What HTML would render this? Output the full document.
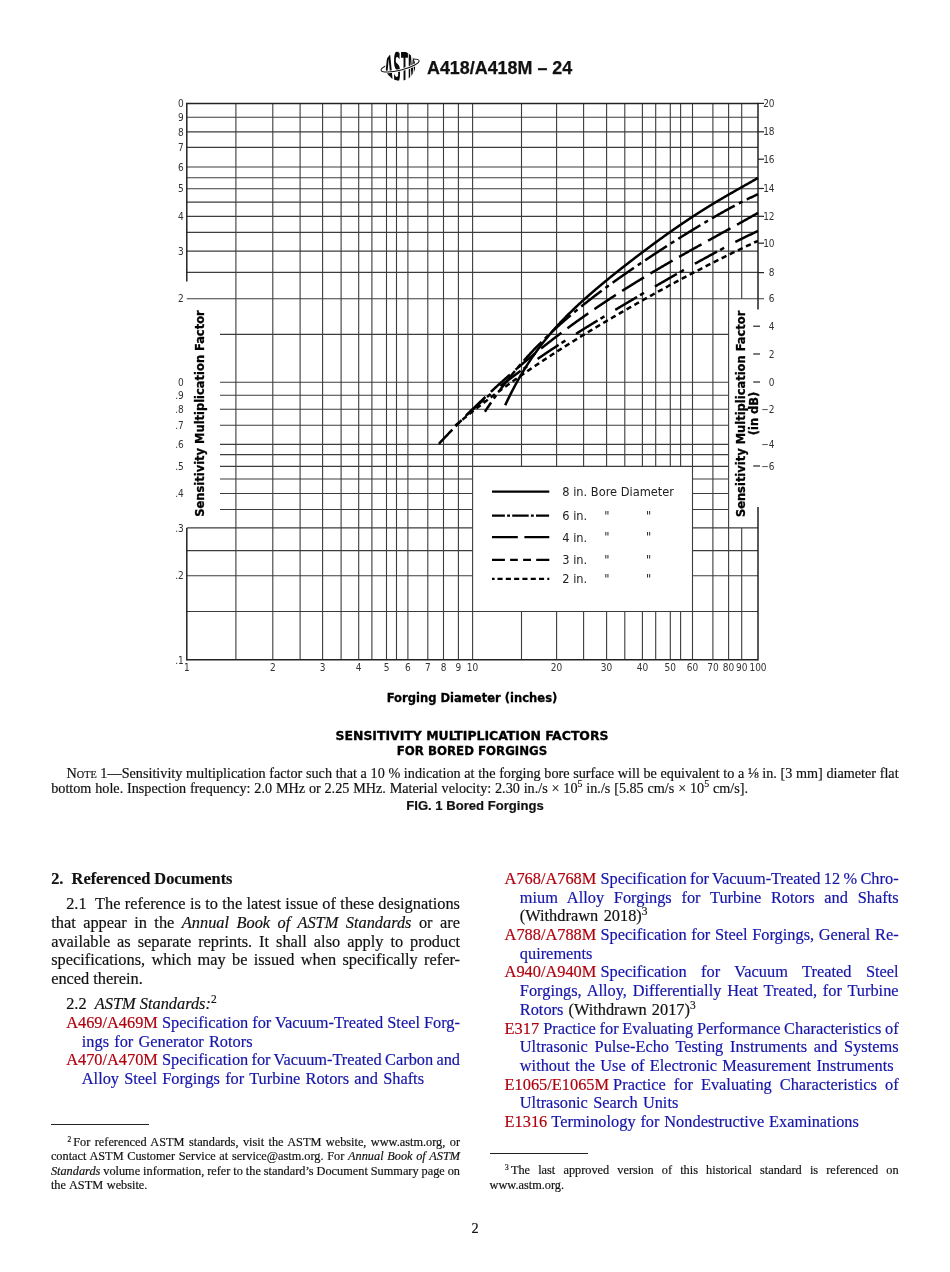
<!DOCTYPE html>
<html><head><meta charset="utf-8"><title>A418/A418M – 24</title>
<style>
html,body{margin:0;padding:0;background:#fff;}
body{width:950px;height:1272px;position:relative;overflow:hidden;font-family:"Liberation Serif","Times New Roman",serif;color:#111;}
.ln{position:absolute;white-space:nowrap;-webkit-text-stroke:0.18px currentColor;}
.ns{word-spacing:0;}
.r{color:#b0000e;}
.b{color:#1515aa;}
sup{font-size:0.7em;vertical-align:0;position:relative;top:-0.55em;line-height:0;}
sup.fn{font-size:0.6em;top:-0.6em;margin-right:2.2px;}
sub{font-size:0.68em;vertical-align:0;position:relative;top:0.1em;line-height:0;}
.sc small{font-size:0.72em;}
.hdr{position:absolute;left:427px;top:57.5px;font-family:"Liberation Sans",Arial,sans-serif;font-weight:bold;font-size:17.9px;line-height:20px;-webkit-text-stroke:0.25px #111;white-space:nowrap;color:#111;}
.cap{position:absolute;left:0;width:950px;text-align:center;font-family:"Liberation Sans",Arial,sans-serif;font-weight:bold;white-space:nowrap;color:#111;-webkit-text-stroke:0.2px #111;}
.rule{position:absolute;height:1px;background:#222;}
</style></head>
<body>
<svg width="50" height="44" viewBox="0 0 50 44" style="position:absolute;left:375px;top:44px">
  <defs><clipPath id="gc"><ellipse cx="25.2" cy="21.9" rx="15.0" ry="14.9"/></clipPath></defs>
  <g transform="rotate(-14.3 25.1 21.5)"><ellipse cx="25.1" cy="21.5" rx="19.6" ry="4.6" fill="none" stroke="#111" stroke-width="1.0"/></g>
  <g clip-path="url(#gc)" font-family="DejaVu Sans Condensed,DejaVu Sans,sans-serif" font-weight="bold" font-size="40" fill="#0a0a0a">
    <rect x="8" y="4" width="35" height="36" fill="#fff"/>
    <text x="9.6" y="37.5" textLength="8.4" lengthAdjust="spacingAndGlyphs">A</text>
    <text x="18.2" y="37.5" textLength="7.6" lengthAdjust="spacingAndGlyphs">S</text>
    <text x="25.9" y="37.5" textLength="7.0" lengthAdjust="spacingAndGlyphs">T</text>
    <text x="33.0" y="37.5" textLength="8.0" lengthAdjust="spacingAndGlyphs">M</text>
  </g>
  <g transform="rotate(-14.3 25.1 21.5)"><path d="M5.5,21.5 A19.6,4.6 0 0 0 44.7,21.5" fill="none" stroke="#fff" stroke-width="2.6"/><path d="M5.5,21.5 A19.6,4.6 0 0 0 44.7,21.5" fill="none" stroke="#111" stroke-width="1.0"/></g>
</svg>
<div class="hdr">A418/A418M – 24</div>
<svg width="950" height="760" viewBox="0 0 950 760" style="position:absolute;left:0;top:0">
<line x1="186.8" y1="117.3" x2="758.0" y2="117.3" stroke="#3c3c3c" stroke-width="1.1"/>
<line x1="186.8" y1="131.9" x2="758.0" y2="131.9" stroke="#3c3c3c" stroke-width="1.1"/>
<line x1="186.8" y1="147.4" x2="758.0" y2="147.4" stroke="#3c3c3c" stroke-width="1.1"/>
<line x1="186.8" y1="167.0" x2="758.0" y2="167.0" stroke="#3c3c3c" stroke-width="1.1"/>
<line x1="186.8" y1="177.7" x2="758.0" y2="177.7" stroke="#3c3c3c" stroke-width="1.1"/>
<line x1="186.8" y1="188.8" x2="758.0" y2="188.8" stroke="#3c3c3c" stroke-width="1.1"/>
<line x1="186.8" y1="202.1" x2="758.0" y2="202.1" stroke="#3c3c3c" stroke-width="1.1"/>
<line x1="186.8" y1="216.4" x2="758.0" y2="216.4" stroke="#3c3c3c" stroke-width="1.1"/>
<line x1="186.8" y1="232.4" x2="758.0" y2="232.4" stroke="#3c3c3c" stroke-width="1.1"/>
<line x1="186.8" y1="251.1" x2="758.0" y2="251.1" stroke="#3c3c3c" stroke-width="1.1"/>
<line x1="186.8" y1="272.4" x2="758.0" y2="272.4" stroke="#3c3c3c" stroke-width="1.1"/>
<line x1="186.8" y1="298.8" x2="764.0" y2="298.8" stroke="#3c3c3c" stroke-width="1.1"/>
<line x1="220.0" y1="334.4" x2="728.6" y2="334.4" stroke="#3c3c3c" stroke-width="1.1"/>
<line x1="220.0" y1="382.2" x2="728.6" y2="382.2" stroke="#3c3c3c" stroke-width="1.1"/>
<line x1="220.0" y1="395.3" x2="728.6" y2="395.3" stroke="#3c3c3c" stroke-width="1.1"/>
<line x1="220.0" y1="409.3" x2="728.6" y2="409.3" stroke="#3c3c3c" stroke-width="1.1"/>
<line x1="220.0" y1="425.3" x2="728.6" y2="425.3" stroke="#3c3c3c" stroke-width="1.1"/>
<line x1="220.0" y1="444.4" x2="728.6" y2="444.4" stroke="#3c3c3c" stroke-width="1.1"/>
<line x1="220.0" y1="454.6" x2="728.6" y2="454.6" stroke="#3c3c3c" stroke-width="1.1"/>
<line x1="220.0" y1="466.4" x2="728.6" y2="466.4" stroke="#3c3c3c" stroke-width="1.1"/>
<line x1="220.0" y1="479.0" x2="472.6" y2="479.0" stroke="#3c3c3c" stroke-width="1.1"/>
<line x1="692.5" y1="479.0" x2="728.6" y2="479.0" stroke="#3c3c3c" stroke-width="1.1"/>
<line x1="220.0" y1="493.5" x2="472.6" y2="493.5" stroke="#3c3c3c" stroke-width="1.1"/>
<line x1="692.5" y1="493.5" x2="728.6" y2="493.5" stroke="#3c3c3c" stroke-width="1.1"/>
<line x1="220.0" y1="509.5" x2="472.6" y2="509.5" stroke="#3c3c3c" stroke-width="1.1"/>
<line x1="692.5" y1="509.5" x2="728.6" y2="509.5" stroke="#3c3c3c" stroke-width="1.1"/>
<line x1="186.8" y1="527.9" x2="472.6" y2="527.9" stroke="#3c3c3c" stroke-width="1.1"/>
<line x1="692.5" y1="527.9" x2="758.0" y2="527.9" stroke="#3c3c3c" stroke-width="1.1"/>
<line x1="186.8" y1="550.6" x2="472.6" y2="550.6" stroke="#3c3c3c" stroke-width="1.1"/>
<line x1="692.5" y1="550.6" x2="758.0" y2="550.6" stroke="#3c3c3c" stroke-width="1.1"/>
<line x1="186.8" y1="575.7" x2="472.6" y2="575.7" stroke="#3c3c3c" stroke-width="1.1"/>
<line x1="692.5" y1="575.7" x2="758.0" y2="575.7" stroke="#3c3c3c" stroke-width="1.1"/>
<line x1="186.8" y1="611.5" x2="758.0" y2="611.5" stroke="#3c3c3c" stroke-width="1.1"/>
<line x1="235.9" y1="103.4" x2="235.9" y2="659.8" stroke="#3c3c3c" stroke-width="1.1"/>
<line x1="272.8" y1="103.4" x2="272.8" y2="659.8" stroke="#3c3c3c" stroke-width="1.1"/>
<line x1="300.1" y1="103.4" x2="300.1" y2="659.8" stroke="#3c3c3c" stroke-width="1.1"/>
<line x1="322.6" y1="103.4" x2="322.6" y2="659.8" stroke="#3c3c3c" stroke-width="1.1"/>
<line x1="341.1" y1="103.4" x2="341.1" y2="659.8" stroke="#3c3c3c" stroke-width="1.1"/>
<line x1="358.7" y1="103.4" x2="358.7" y2="659.8" stroke="#3c3c3c" stroke-width="1.1"/>
<line x1="371.9" y1="103.4" x2="371.9" y2="659.8" stroke="#3c3c3c" stroke-width="1.1"/>
<line x1="386.5" y1="103.4" x2="386.5" y2="659.8" stroke="#3c3c3c" stroke-width="1.1"/>
<line x1="396.5" y1="103.4" x2="396.5" y2="659.8" stroke="#3c3c3c" stroke-width="1.1"/>
<line x1="407.9" y1="103.4" x2="407.9" y2="659.8" stroke="#3c3c3c" stroke-width="1.1"/>
<line x1="427.8" y1="103.4" x2="427.8" y2="659.8" stroke="#3c3c3c" stroke-width="1.1"/>
<line x1="443.5" y1="103.4" x2="443.5" y2="659.8" stroke="#3c3c3c" stroke-width="1.1"/>
<line x1="458.4" y1="103.4" x2="458.4" y2="659.8" stroke="#3c3c3c" stroke-width="1.1"/>
<line x1="472.6" y1="103.4" x2="472.6" y2="659.8" stroke="#3c3c3c" stroke-width="1.1"/>
<line x1="521.5" y1="103.4" x2="521.5" y2="466.4" stroke="#3c3c3c" stroke-width="1.1"/>
<line x1="521.5" y1="611.5" x2="521.5" y2="659.8" stroke="#3c3c3c" stroke-width="1.1"/>
<line x1="556.6" y1="103.4" x2="556.6" y2="466.4" stroke="#3c3c3c" stroke-width="1.1"/>
<line x1="556.6" y1="611.5" x2="556.6" y2="659.8" stroke="#3c3c3c" stroke-width="1.1"/>
<line x1="583.6" y1="103.4" x2="583.6" y2="466.4" stroke="#3c3c3c" stroke-width="1.1"/>
<line x1="583.6" y1="611.5" x2="583.6" y2="659.8" stroke="#3c3c3c" stroke-width="1.1"/>
<line x1="606.6" y1="103.4" x2="606.6" y2="466.4" stroke="#3c3c3c" stroke-width="1.1"/>
<line x1="606.6" y1="611.5" x2="606.6" y2="659.8" stroke="#3c3c3c" stroke-width="1.1"/>
<line x1="624.8" y1="103.4" x2="624.8" y2="466.4" stroke="#3c3c3c" stroke-width="1.1"/>
<line x1="624.8" y1="611.5" x2="624.8" y2="659.8" stroke="#3c3c3c" stroke-width="1.1"/>
<line x1="642.4" y1="103.4" x2="642.4" y2="466.4" stroke="#3c3c3c" stroke-width="1.1"/>
<line x1="642.4" y1="611.5" x2="642.4" y2="659.8" stroke="#3c3c3c" stroke-width="1.1"/>
<line x1="655.7" y1="103.4" x2="655.7" y2="466.4" stroke="#3c3c3c" stroke-width="1.1"/>
<line x1="655.7" y1="611.5" x2="655.7" y2="659.8" stroke="#3c3c3c" stroke-width="1.1"/>
<line x1="670.3" y1="103.4" x2="670.3" y2="466.4" stroke="#3c3c3c" stroke-width="1.1"/>
<line x1="670.3" y1="611.5" x2="670.3" y2="659.8" stroke="#3c3c3c" stroke-width="1.1"/>
<line x1="680.6" y1="103.4" x2="680.6" y2="466.4" stroke="#3c3c3c" stroke-width="1.1"/>
<line x1="680.6" y1="611.5" x2="680.6" y2="659.8" stroke="#3c3c3c" stroke-width="1.1"/>
<line x1="692.5" y1="103.4" x2="692.5" y2="659.8" stroke="#3c3c3c" stroke-width="1.1"/>
<line x1="712.9" y1="103.4" x2="712.9" y2="659.8" stroke="#3c3c3c" stroke-width="1.1"/>
<line x1="728.6" y1="103.4" x2="728.6" y2="659.8" stroke="#3c3c3c" stroke-width="1.1"/>
<line x1="741.7" y1="103.4" x2="741.7" y2="298.8" stroke="#3c3c3c" stroke-width="1.1"/>
<line x1="741.7" y1="527.9" x2="741.7" y2="659.8" stroke="#3c3c3c" stroke-width="1.1"/>
<line x1="186.8" y1="102.8" x2="186.8" y2="281.4" stroke="#222" stroke-width="1.5"/>
<line x1="186.8" y1="527.9" x2="186.8" y2="660.4" stroke="#222" stroke-width="1.5"/>
<line x1="758.0" y1="102.8" x2="758.0" y2="309.5" stroke="#222" stroke-width="1.5"/>
<line x1="758.0" y1="507.0" x2="758.0" y2="660.4" stroke="#222" stroke-width="1.5"/>
<line x1="186.8" y1="103.4" x2="758.0" y2="103.4" stroke="#222" stroke-width="1.5"/>
<line x1="186.8" y1="659.8" x2="758.0" y2="659.8" stroke="#222" stroke-width="1.6"/>
<line x1="758.0" y1="103.4" x2="764.0" y2="103.4" stroke="#222" stroke-width="1.2"/>
<line x1="758.0" y1="131.8" x2="764.0" y2="131.8" stroke="#222" stroke-width="1.2"/>
<line x1="758.0" y1="159.2" x2="764.0" y2="159.2" stroke="#222" stroke-width="1.2"/>
<line x1="758.0" y1="188.5" x2="764.0" y2="188.5" stroke="#222" stroke-width="1.2"/>
<line x1="758.0" y1="216.3" x2="764.0" y2="216.3" stroke="#222" stroke-width="1.2"/>
<line x1="758.0" y1="243.2" x2="764.0" y2="243.2" stroke="#222" stroke-width="1.2"/>
<line x1="758.0" y1="272.6" x2="764.0" y2="272.6" stroke="#222" stroke-width="1.2"/>
<line x1="753.2" y1="326.2" x2="760.0" y2="326.2" stroke="#222" stroke-width="1.2"/>
<line x1="753.2" y1="354.0" x2="760.0" y2="354.0" stroke="#222" stroke-width="1.2"/>
<line x1="753.2" y1="382.0" x2="760.0" y2="382.0" stroke="#222" stroke-width="1.2"/>
<line x1="753.2" y1="466.0" x2="760.0" y2="466.0" stroke="#222" stroke-width="1.2"/>
<text x="183.8" y="107.0" text-anchor="end" font-size="10" font-weight="normal" fill="#333" style="font-family:&quot;DejaVu Sans Condensed&quot;,&quot;DejaVu Sans&quot;,sans-serif" >0</text>
<text x="183.8" y="120.9" text-anchor="end" font-size="10" font-weight="normal" fill="#333" style="font-family:&quot;DejaVu Sans Condensed&quot;,&quot;DejaVu Sans&quot;,sans-serif" >9</text>
<text x="183.8" y="135.5" text-anchor="end" font-size="10" font-weight="normal" fill="#333" style="font-family:&quot;DejaVu Sans Condensed&quot;,&quot;DejaVu Sans&quot;,sans-serif" >8</text>
<text x="183.8" y="151.0" text-anchor="end" font-size="10" font-weight="normal" fill="#333" style="font-family:&quot;DejaVu Sans Condensed&quot;,&quot;DejaVu Sans&quot;,sans-serif" >7</text>
<text x="183.8" y="170.6" text-anchor="end" font-size="10" font-weight="normal" fill="#333" style="font-family:&quot;DejaVu Sans Condensed&quot;,&quot;DejaVu Sans&quot;,sans-serif" >6</text>
<text x="183.8" y="192.4" text-anchor="end" font-size="10" font-weight="normal" fill="#333" style="font-family:&quot;DejaVu Sans Condensed&quot;,&quot;DejaVu Sans&quot;,sans-serif" >5</text>
<text x="183.8" y="220.0" text-anchor="end" font-size="10" font-weight="normal" fill="#333" style="font-family:&quot;DejaVu Sans Condensed&quot;,&quot;DejaVu Sans&quot;,sans-serif" >4</text>
<text x="183.8" y="254.7" text-anchor="end" font-size="10" font-weight="normal" fill="#333" style="font-family:&quot;DejaVu Sans Condensed&quot;,&quot;DejaVu Sans&quot;,sans-serif" >3</text>
<text x="183.8" y="302.4" text-anchor="end" font-size="10" font-weight="normal" fill="#333" style="font-family:&quot;DejaVu Sans Condensed&quot;,&quot;DejaVu Sans&quot;,sans-serif" >2</text>
<text x="183.8" y="385.8" text-anchor="end" font-size="10" font-weight="normal" fill="#333" style="font-family:&quot;DejaVu Sans Condensed&quot;,&quot;DejaVu Sans&quot;,sans-serif" >0</text>
<text x="183.8" y="398.9" text-anchor="end" font-size="10" font-weight="normal" fill="#333" style="font-family:&quot;DejaVu Sans Condensed&quot;,&quot;DejaVu Sans&quot;,sans-serif" >.9</text>
<text x="183.8" y="412.9" text-anchor="end" font-size="10" font-weight="normal" fill="#333" style="font-family:&quot;DejaVu Sans Condensed&quot;,&quot;DejaVu Sans&quot;,sans-serif" >.8</text>
<text x="183.8" y="428.9" text-anchor="end" font-size="10" font-weight="normal" fill="#333" style="font-family:&quot;DejaVu Sans Condensed&quot;,&quot;DejaVu Sans&quot;,sans-serif" >.7</text>
<text x="183.8" y="448.0" text-anchor="end" font-size="10" font-weight="normal" fill="#333" style="font-family:&quot;DejaVu Sans Condensed&quot;,&quot;DejaVu Sans&quot;,sans-serif" >.6</text>
<text x="183.8" y="470.0" text-anchor="end" font-size="10" font-weight="normal" fill="#333" style="font-family:&quot;DejaVu Sans Condensed&quot;,&quot;DejaVu Sans&quot;,sans-serif" >.5</text>
<text x="183.8" y="497.1" text-anchor="end" font-size="10" font-weight="normal" fill="#333" style="font-family:&quot;DejaVu Sans Condensed&quot;,&quot;DejaVu Sans&quot;,sans-serif" >.4</text>
<text x="183.8" y="531.5" text-anchor="end" font-size="10" font-weight="normal" fill="#333" style="font-family:&quot;DejaVu Sans Condensed&quot;,&quot;DejaVu Sans&quot;,sans-serif" >.3</text>
<text x="183.8" y="579.3" text-anchor="end" font-size="10" font-weight="normal" fill="#333" style="font-family:&quot;DejaVu Sans Condensed&quot;,&quot;DejaVu Sans&quot;,sans-serif" >.2</text>
<text x="183.8" y="663.7" text-anchor="end" font-size="10" font-weight="normal" fill="#333" style="font-family:&quot;DejaVu Sans Condensed&quot;,&quot;DejaVu Sans&quot;,sans-serif" >.1</text>
<text x="186.8" y="671.4" text-anchor="middle" font-size="10" font-weight="normal" fill="#333" style="font-family:&quot;DejaVu Sans Condensed&quot;,&quot;DejaVu Sans&quot;,sans-serif" >1</text>
<text x="272.8" y="671.4" text-anchor="middle" font-size="10" font-weight="normal" fill="#333" style="font-family:&quot;DejaVu Sans Condensed&quot;,&quot;DejaVu Sans&quot;,sans-serif" >2</text>
<text x="322.6" y="671.4" text-anchor="middle" font-size="10" font-weight="normal" fill="#333" style="font-family:&quot;DejaVu Sans Condensed&quot;,&quot;DejaVu Sans&quot;,sans-serif" >3</text>
<text x="358.7" y="671.4" text-anchor="middle" font-size="10" font-weight="normal" fill="#333" style="font-family:&quot;DejaVu Sans Condensed&quot;,&quot;DejaVu Sans&quot;,sans-serif" >4</text>
<text x="386.5" y="671.4" text-anchor="middle" font-size="10" font-weight="normal" fill="#333" style="font-family:&quot;DejaVu Sans Condensed&quot;,&quot;DejaVu Sans&quot;,sans-serif" >5</text>
<text x="407.9" y="671.4" text-anchor="middle" font-size="10" font-weight="normal" fill="#333" style="font-family:&quot;DejaVu Sans Condensed&quot;,&quot;DejaVu Sans&quot;,sans-serif" >6</text>
<text x="427.8" y="671.4" text-anchor="middle" font-size="10" font-weight="normal" fill="#333" style="font-family:&quot;DejaVu Sans Condensed&quot;,&quot;DejaVu Sans&quot;,sans-serif" >7</text>
<text x="443.5" y="671.4" text-anchor="middle" font-size="10" font-weight="normal" fill="#333" style="font-family:&quot;DejaVu Sans Condensed&quot;,&quot;DejaVu Sans&quot;,sans-serif" >8</text>
<text x="458.4" y="671.4" text-anchor="middle" font-size="10" font-weight="normal" fill="#333" style="font-family:&quot;DejaVu Sans Condensed&quot;,&quot;DejaVu Sans&quot;,sans-serif" >9</text>
<text x="472.6" y="671.4" text-anchor="middle" font-size="10" font-weight="normal" fill="#333" style="font-family:&quot;DejaVu Sans Condensed&quot;,&quot;DejaVu Sans&quot;,sans-serif" >10</text>
<text x="556.6" y="671.4" text-anchor="middle" font-size="10" font-weight="normal" fill="#333" style="font-family:&quot;DejaVu Sans Condensed&quot;,&quot;DejaVu Sans&quot;,sans-serif" >20</text>
<text x="606.6" y="671.4" text-anchor="middle" font-size="10" font-weight="normal" fill="#333" style="font-family:&quot;DejaVu Sans Condensed&quot;,&quot;DejaVu Sans&quot;,sans-serif" >30</text>
<text x="642.4" y="671.4" text-anchor="middle" font-size="10" font-weight="normal" fill="#333" style="font-family:&quot;DejaVu Sans Condensed&quot;,&quot;DejaVu Sans&quot;,sans-serif" >40</text>
<text x="670.3" y="671.4" text-anchor="middle" font-size="10" font-weight="normal" fill="#333" style="font-family:&quot;DejaVu Sans Condensed&quot;,&quot;DejaVu Sans&quot;,sans-serif" >50</text>
<text x="692.5" y="671.4" text-anchor="middle" font-size="10" font-weight="normal" fill="#333" style="font-family:&quot;DejaVu Sans Condensed&quot;,&quot;DejaVu Sans&quot;,sans-serif" >60</text>
<text x="712.9" y="671.4" text-anchor="middle" font-size="10" font-weight="normal" fill="#333" style="font-family:&quot;DejaVu Sans Condensed&quot;,&quot;DejaVu Sans&quot;,sans-serif" >70</text>
<text x="728.6" y="671.4" text-anchor="middle" font-size="10" font-weight="normal" fill="#333" style="font-family:&quot;DejaVu Sans Condensed&quot;,&quot;DejaVu Sans&quot;,sans-serif" >80</text>
<text x="741.7" y="671.4" text-anchor="middle" font-size="10" font-weight="normal" fill="#333" style="font-family:&quot;DejaVu Sans Condensed&quot;,&quot;DejaVu Sans&quot;,sans-serif" >90</text>
<text x="758.0" y="671.4" text-anchor="middle" font-size="10" font-weight="normal" fill="#333" style="font-family:&quot;DejaVu Sans Condensed&quot;,&quot;DejaVu Sans&quot;,sans-serif" >100</text>
<text x="774.6" y="107.0" text-anchor="end" font-size="10" font-weight="normal" fill="#333" style="font-family:&quot;DejaVu Sans Condensed&quot;,&quot;DejaVu Sans&quot;,sans-serif" >20</text>
<text x="774.6" y="135.4" text-anchor="end" font-size="10" font-weight="normal" fill="#333" style="font-family:&quot;DejaVu Sans Condensed&quot;,&quot;DejaVu Sans&quot;,sans-serif" >18</text>
<text x="774.6" y="162.8" text-anchor="end" font-size="10" font-weight="normal" fill="#333" style="font-family:&quot;DejaVu Sans Condensed&quot;,&quot;DejaVu Sans&quot;,sans-serif" >16</text>
<text x="774.6" y="192.1" text-anchor="end" font-size="10" font-weight="normal" fill="#333" style="font-family:&quot;DejaVu Sans Condensed&quot;,&quot;DejaVu Sans&quot;,sans-serif" >14</text>
<text x="774.6" y="219.9" text-anchor="end" font-size="10" font-weight="normal" fill="#333" style="font-family:&quot;DejaVu Sans Condensed&quot;,&quot;DejaVu Sans&quot;,sans-serif" >12</text>
<text x="774.6" y="246.8" text-anchor="end" font-size="10" font-weight="normal" fill="#333" style="font-family:&quot;DejaVu Sans Condensed&quot;,&quot;DejaVu Sans&quot;,sans-serif" >10</text>
<text x="774.6" y="276.2" text-anchor="end" font-size="10" font-weight="normal" fill="#333" style="font-family:&quot;DejaVu Sans Condensed&quot;,&quot;DejaVu Sans&quot;,sans-serif" >8</text>
<text x="774.6" y="302.4" text-anchor="end" font-size="10" font-weight="normal" fill="#333" style="font-family:&quot;DejaVu Sans Condensed&quot;,&quot;DejaVu Sans&quot;,sans-serif" >6</text>
<text x="774.6" y="329.8" text-anchor="end" font-size="10" font-weight="normal" fill="#333" style="font-family:&quot;DejaVu Sans Condensed&quot;,&quot;DejaVu Sans&quot;,sans-serif" >4</text>
<text x="774.6" y="357.6" text-anchor="end" font-size="10" font-weight="normal" fill="#333" style="font-family:&quot;DejaVu Sans Condensed&quot;,&quot;DejaVu Sans&quot;,sans-serif" >2</text>
<text x="774.6" y="385.6" text-anchor="end" font-size="10" font-weight="normal" fill="#333" style="font-family:&quot;DejaVu Sans Condensed&quot;,&quot;DejaVu Sans&quot;,sans-serif" >0</text>
<text x="774.6" y="413.0" text-anchor="end" font-size="10" font-weight="normal" fill="#333" style="font-family:&quot;DejaVu Sans Condensed&quot;,&quot;DejaVu Sans&quot;,sans-serif" >−2</text>
<text x="774.6" y="448.3" text-anchor="end" font-size="10" font-weight="normal" fill="#333" style="font-family:&quot;DejaVu Sans Condensed&quot;,&quot;DejaVu Sans&quot;,sans-serif" >−4</text>
<text x="774.6" y="469.6" text-anchor="end" font-size="10" font-weight="normal" fill="#333" style="font-family:&quot;DejaVu Sans Condensed&quot;,&quot;DejaVu Sans&quot;,sans-serif" >−6</text>
<text x="472.0" y="701.5" text-anchor="middle" font-size="12.85" font-weight="bold" fill="#000" stroke="#000" stroke-width="0.3" style="font-family:&quot;DejaVu Sans Condensed&quot;,&quot;DejaVu Sans&quot;,sans-serif" >Forging Diameter (inches)</text>
<text x="472.0" y="739.6" text-anchor="middle" font-size="12.8" font-weight="bold" fill="#000" stroke="#000" stroke-width="0.3" style="font-family:&quot;DejaVu Sans Condensed&quot;,&quot;DejaVu Sans&quot;,sans-serif" textLength="273" lengthAdjust="spacingAndGlyphs">SENSITIVITY MULTIPLICATION FACTORS</text>
<text x="472.0" y="754.6" text-anchor="middle" font-size="12.8" font-weight="bold" fill="#000" stroke="#000" stroke-width="0.3" style="font-family:&quot;DejaVu Sans Condensed&quot;,&quot;DejaVu Sans&quot;,sans-serif" textLength="150.4" lengthAdjust="spacingAndGlyphs">FOR BORED FORGINGS</text>
<text transform="translate(203.6,413.5) rotate(-90)" text-anchor="middle" font-size="12.75" font-weight="bold" fill="#000" stroke="#000" stroke-width="0.3" style="font-family:&quot;DejaVu Sans Condensed&quot;,&quot;DejaVu Sans&quot;,sans-serif">Sensitivity Multiplication Factor</text>
<text transform="translate(744.6,413.9) rotate(-90)" text-anchor="middle" font-size="12.75" font-weight="bold" fill="#000" stroke="#000" stroke-width="0.3" style="font-family:&quot;DejaVu Sans Condensed&quot;,&quot;DejaVu Sans&quot;,sans-serif">Sensitivity Multiplication Factor</text>
<text transform="translate(757.6,413.5) rotate(-90)" text-anchor="middle" font-size="12.75" font-weight="bold" fill="#000" stroke="#000" stroke-width="0.3" style="font-family:&quot;DejaVu Sans Condensed&quot;,&quot;DejaVu Sans&quot;,sans-serif">(in dB)</text>
<line x1="492" y1="491.6" x2="549.3" y2="491.6" stroke="#000" stroke-width="2.3"/>
<line x1="492" y1="515.6" x2="549.3" y2="515.6" stroke="#000" stroke-width="2.3" stroke-dasharray="12.9 2.2 2.9 2.2 16.5 2.2 2.9 2.2 13.1"/>
<line x1="492" y1="537.1" x2="549.3" y2="537.1" stroke="#000" stroke-width="2.3" stroke-dasharray="25.8 6.6 24.9"/>
<line x1="492" y1="559.9" x2="549.3" y2="559.9" stroke="#000" stroke-width="2.3" stroke-dasharray="12.9 5.2 7.7 5.3 7.9 5.2 13.1"/>
<line x1="492" y1="578.8" x2="549.3" y2="578.8" stroke="#000" stroke-width="2.3" stroke-dasharray="2.6 2.9 5.1 3.2 5.1 3.2 5.1 3.2 5.1 3.2 5.1 3.2 5.1 3.2 2.6"/>
<text x="562.3" y="496.1" text-anchor="start" font-size="12.7" font-weight="normal" fill="#222" style="font-family:&quot;DejaVu Sans Condensed&quot;,&quot;DejaVu Sans&quot;,sans-serif" >8 in. Bore Diameter</text>
<text x="562.3" y="520.1" text-anchor="start" font-size="12.7" font-weight="normal" fill="#222" style="font-family:&quot;DejaVu Sans Condensed&quot;,&quot;DejaVu Sans&quot;,sans-serif" >6 in.</text>
<text x="606.9" y="519.9" text-anchor="middle" font-size="12.7" font-weight="normal" fill="#222" style="font-family:&quot;DejaVu Sans Condensed&quot;,&quot;DejaVu Sans&quot;,sans-serif" >&quot;</text>
<text x="648.6" y="519.9" text-anchor="middle" font-size="12.7" font-weight="normal" fill="#222" style="font-family:&quot;DejaVu Sans Condensed&quot;,&quot;DejaVu Sans&quot;,sans-serif" >&quot;</text>
<text x="562.3" y="541.6" text-anchor="start" font-size="12.7" font-weight="normal" fill="#222" style="font-family:&quot;DejaVu Sans Condensed&quot;,&quot;DejaVu Sans&quot;,sans-serif" >4 in.</text>
<text x="606.9" y="541.4" text-anchor="middle" font-size="12.7" font-weight="normal" fill="#222" style="font-family:&quot;DejaVu Sans Condensed&quot;,&quot;DejaVu Sans&quot;,sans-serif" >&quot;</text>
<text x="648.6" y="541.4" text-anchor="middle" font-size="12.7" font-weight="normal" fill="#222" style="font-family:&quot;DejaVu Sans Condensed&quot;,&quot;DejaVu Sans&quot;,sans-serif" >&quot;</text>
<text x="562.3" y="564.4" text-anchor="start" font-size="12.7" font-weight="normal" fill="#222" style="font-family:&quot;DejaVu Sans Condensed&quot;,&quot;DejaVu Sans&quot;,sans-serif" >3 in.</text>
<text x="606.9" y="564.2" text-anchor="middle" font-size="12.7" font-weight="normal" fill="#222" style="font-family:&quot;DejaVu Sans Condensed&quot;,&quot;DejaVu Sans&quot;,sans-serif" >&quot;</text>
<text x="648.6" y="564.2" text-anchor="middle" font-size="12.7" font-weight="normal" fill="#222" style="font-family:&quot;DejaVu Sans Condensed&quot;,&quot;DejaVu Sans&quot;,sans-serif" >&quot;</text>
<text x="562.3" y="583.3" text-anchor="start" font-size="12.7" font-weight="normal" fill="#222" style="font-family:&quot;DejaVu Sans Condensed&quot;,&quot;DejaVu Sans&quot;,sans-serif" >2 in.</text>
<text x="606.9" y="583.1" text-anchor="middle" font-size="12.7" font-weight="normal" fill="#222" style="font-family:&quot;DejaVu Sans Condensed&quot;,&quot;DejaVu Sans&quot;,sans-serif" >&quot;</text>
<text x="648.6" y="583.1" text-anchor="middle" font-size="12.7" font-weight="normal" fill="#222" style="font-family:&quot;DejaVu Sans Condensed&quot;,&quot;DejaVu Sans&quot;,sans-serif" >&quot;</text>
<path d="M505.20,405.19 L505.70,404.12 L506.20,403.05 L506.70,402.00 L507.20,400.95 L507.70,399.92 L508.20,398.89 L508.70,397.87 L509.20,396.85 L509.70,395.84 L510.20,394.85 L510.70,393.85 L511.20,392.87 L511.70,391.89 L512.20,390.92 L512.70,389.96 L513.20,389.01 L513.70,388.06 L514.20,387.12 L514.70,386.19 L515.20,385.26 L515.70,384.34 L516.20,383.43 L516.70,382.52 L517.20,381.62 L517.70,380.73 L518.20,379.84 L518.70,378.96 L519.20,378.08 L519.70,377.22 L520.20,376.35 L520.70,375.50 L521.20,374.65 L521.70,373.81 L522.20,372.97 L522.70,372.14 L523.20,371.31 L523.70,370.49 L524.20,369.68 L524.70,368.87 L525.20,368.07 L525.70,367.27 L526.20,366.48 L526.70,365.69 L527.20,364.91 L527.70,364.14 L528.20,363.37 L528.70,362.60 L529.20,361.84 L529.70,361.09 L530.20,360.34 L530.70,359.59 L531.20,358.85 L531.70,358.12 L532.20,357.39 L532.70,356.66 L533.20,355.94 L533.70,355.22 L534.20,354.51 L534.70,353.81 L535.20,353.10 L535.70,352.41 L536.20,351.71 L536.70,351.02 L537.20,350.34 L537.70,349.66 L538.20,348.98 L538.70,348.31 L539.20,347.64 L539.70,346.98 L540.20,346.32 L540.70,345.66 L541.20,345.01 L541.70,344.36 L542.20,343.72 L542.70,343.08 L543.20,342.44 L543.70,341.81 L544.20,341.18 L544.70,340.55 L545.20,339.93 L545.70,339.31 L546.20,338.70 L546.70,338.09 L547.20,337.48 L547.70,336.87 L548.20,336.27 L548.70,335.67 L549.20,335.08 L549.70,334.49 L550.20,333.90 L550.70,333.31 L551.20,332.73 L551.70,332.15 L552.20,331.57 L552.70,331.00 L553.20,330.43 L553.70,329.86 L554.20,329.30 L554.70,328.73 L555.20,328.17 L555.70,327.62 L556.20,327.06 L556.70,326.51 L557.20,325.96 L557.70,325.42 L558.20,324.87 L558.70,324.33 L559.20,323.80 L559.70,323.26 L560.20,322.73 L560.70,322.20 L561.20,321.67 L561.70,321.14 L562.20,320.62 L562.70,320.10 L563.20,319.58 L563.70,319.06 L564.20,318.54 L564.70,318.03 L565.20,317.52 L565.70,317.01 L566.20,316.50 L566.70,316.00 L567.20,315.50 L567.70,315.00 L568.20,314.50 L568.70,314.00 L569.20,313.51 L569.70,313.01 L570.20,312.52 L570.70,312.03 L571.20,311.55 L571.70,311.06 L572.20,310.58 L572.70,310.09 L573.20,309.61 L573.70,309.14 L574.20,308.66 L574.70,308.18 L575.20,307.71 L575.70,307.24 L576.20,306.77 L576.70,306.30 L577.20,305.83 L577.70,305.36 L578.20,304.90 L578.70,304.43 L579.20,303.97 L579.70,303.51 L580.20,303.05 L580.70,302.59 L581.20,302.14 L581.70,301.68 L582.20,301.23 L582.70,300.78 L583.20,300.32 L583.70,299.87 L584.20,299.43 L584.70,298.98 L585.20,298.53 L585.70,298.09 L586.20,297.64 L586.70,297.20 L587.20,296.76 L587.70,296.32 L588.20,295.88 L588.70,295.44 L589.20,295.00 L589.70,294.56 L590.20,294.13 L590.70,293.69 L591.20,293.26 L591.70,292.83 L592.20,292.40 L592.70,291.96 L593.20,291.53 L593.70,291.11 L594.20,290.68 L594.70,290.25 L595.20,289.82 L595.70,289.40 L596.20,288.97 L596.70,288.55 L597.20,288.13 L597.70,287.71 L598.20,287.29 L598.70,286.86 L599.20,286.44 L599.70,286.03 L600.20,285.61 L600.70,285.19 L601.20,284.77 L601.70,284.36 L602.20,283.94 L602.70,283.53 L603.20,283.11 L603.70,282.70 L604.20,282.29 L604.70,281.88 L605.20,281.46 L605.70,281.05 L606.20,280.64 L606.70,280.24 L607.20,279.83 L607.70,279.42 L608.20,279.01 L608.70,278.60 L609.20,278.20 L609.70,277.79 L610.20,277.39 L610.70,276.98 L611.20,276.58 L611.70,276.17 L612.20,275.77 L612.70,275.37 L613.20,274.97 L613.70,274.56 L614.20,274.16 L614.70,273.76 L615.20,273.36 L615.70,272.96 L616.20,272.57 L616.70,272.17 L617.20,271.77 L617.70,271.37 L618.20,270.97 L618.70,270.58 L619.20,270.18 L619.70,269.79 L620.20,269.39 L620.70,269.00 L621.20,268.60 L621.70,268.21 L622.20,267.81 L622.70,267.42 L623.20,267.03 L623.70,266.64 L624.20,266.24 L624.70,265.85 L625.20,265.46 L625.70,265.07 L626.20,264.68 L626.70,264.29 L627.20,263.90 L627.70,263.51 L628.20,263.13 L628.70,262.74 L629.20,262.35 L629.70,261.96 L630.20,261.58 L630.70,261.19 L631.20,260.80 L631.70,260.42 L632.20,260.03 L632.70,259.65 L633.20,259.26 L633.70,258.88 L634.20,258.50 L634.70,258.11 L635.20,257.73 L635.70,257.35 L636.20,256.96 L636.70,256.58 L637.20,256.20 L637.70,255.82 L638.20,255.44 L638.70,255.06 L639.20,254.68 L639.70,254.30 L640.20,253.92 L640.70,253.54 L641.20,253.16 L641.70,252.79 L642.20,252.41 L642.70,252.03 L643.20,251.65 L643.70,251.28 L644.20,250.90 L644.70,250.53 L645.20,250.15 L645.70,249.78 L646.20,249.40 L646.70,249.03 L647.20,248.66 L647.70,248.28 L648.20,247.91 L648.70,247.54 L649.20,247.16 L649.70,246.79 L650.20,246.42 L650.70,246.05 L651.20,245.68 L651.70,245.31 L652.20,244.94 L652.70,244.57 L653.20,244.20 L653.70,243.84 L654.20,243.47 L654.70,243.10 L655.20,242.73 L655.70,242.37 L656.20,242.00 L656.70,241.64 L657.20,241.27 L657.70,240.91 L658.20,240.54 L658.70,240.18 L659.20,239.81 L659.70,239.45 L660.20,239.09 L660.70,238.73 L661.20,238.37 L661.70,238.00 L662.20,237.64 L662.70,237.28 L663.20,236.92 L663.70,236.56 L664.20,236.21 L664.70,235.85 L665.20,235.49 L665.70,235.13 L666.20,234.78 L666.70,234.42 L667.20,234.06 L667.70,233.71 L668.20,233.35 L668.70,233.00 L669.20,232.65 L669.70,232.29 L670.20,231.94 L670.70,231.59 L671.20,231.24 L671.70,230.88 L672.20,230.53 L672.70,230.18 L673.20,229.83 L673.70,229.48 L674.20,229.14 L674.70,228.79 L675.20,228.44 L675.70,228.09 L676.20,227.75 L676.70,227.40 L677.20,227.06 L677.70,226.71 L678.20,226.37 L678.70,226.02 L679.20,225.68 L679.70,225.34 L680.20,225.00 L680.70,224.65 L681.20,224.31 L681.70,223.97 L682.20,223.63 L682.70,223.29 L683.20,222.95 L683.70,222.62 L684.20,222.28 L684.70,221.94 L685.20,221.61 L685.70,221.27 L686.20,220.94 L686.70,220.60 L687.20,220.27 L687.70,219.93 L688.20,219.60 L688.70,219.27 L689.20,218.94 L689.70,218.61 L690.20,218.28 L690.70,217.95 L691.20,217.62 L691.70,217.29 L692.20,216.96 L692.70,216.63 L693.20,216.31 L693.70,215.98 L694.20,215.65 L694.70,215.33 L695.20,215.01 L695.70,214.68 L696.20,214.36 L696.70,214.04 L697.20,213.71 L697.70,213.39 L698.20,213.07 L698.70,212.75 L699.20,212.43 L699.70,212.11 L700.20,211.79 L700.70,211.48 L701.20,211.16 L701.70,210.84 L702.20,210.53 L702.70,210.21 L703.20,209.90 L703.70,209.58 L704.20,209.27 L704.70,208.96 L705.20,208.65 L705.70,208.33 L706.20,208.02 L706.70,207.71 L707.20,207.40 L707.70,207.09 L708.20,206.78 L708.70,206.48 L709.20,206.17 L709.70,205.86 L710.20,205.55 L710.70,205.25 L711.20,204.94 L711.70,204.64 L712.20,204.33 L712.70,204.03 L713.20,203.73 L713.70,203.43 L714.20,203.12 L714.70,202.82 L715.20,202.52 L715.70,202.22 L716.20,201.92 L716.70,201.62 L717.20,201.32 L717.70,201.02 L718.20,200.73 L718.70,200.43 L719.20,200.13 L719.70,199.84 L720.20,199.54 L720.70,199.25 L721.20,198.95 L721.70,198.66 L722.20,198.36 L722.70,198.07 L723.20,197.78 L723.70,197.48 L724.20,197.19 L724.70,196.90 L725.20,196.61 L725.70,196.32 L726.20,196.03 L726.70,195.74 L727.20,195.45 L727.70,195.16 L728.20,194.87 L728.70,194.58 L729.20,194.29 L729.70,194.01 L730.20,193.72 L730.70,193.43 L731.20,193.14 L731.70,192.86 L732.20,192.57 L732.70,192.29 L733.20,192.00 L733.70,191.72 L734.20,191.43 L734.70,191.15 L735.20,190.86 L735.70,190.58 L736.20,190.29 L736.70,190.01 L737.20,189.73 L737.70,189.44 L738.20,189.16 L738.70,188.88 L739.20,188.59 L739.70,188.31 L740.20,188.03 L740.70,187.74 L741.20,187.46 L741.70,187.18 L742.20,186.90 L742.70,186.61 L743.20,186.33 L743.70,186.05 L744.20,185.77 L744.70,185.48 L745.20,185.20 L745.70,184.92 L746.20,184.64 L746.70,184.35 L747.20,184.07 L747.70,183.79 L748.20,183.51 L748.70,183.22 L749.20,182.94 L749.70,182.66 L750.20,182.37 L750.70,182.09 L751.20,181.80 L751.70,181.52 L752.20,181.24 L752.70,180.95 L753.20,180.67 L753.70,180.38 L754.20,180.09 L754.70,179.81 L755.20,179.52 L755.70,179.23 L756.20,178.95 L756.70,178.66 L757.20,178.37 L757.70,178.08 L758.00,177.91" fill="none" stroke="#000" stroke-width="2.5" stroke-linejoin="round"/>
<path d="M484.90,411.70 L485.40,410.94 L485.90,410.19 L486.40,409.43 L486.90,408.68 L487.40,407.93 L487.90,407.19 L488.40,406.45 L488.90,405.71 L489.40,404.97 L489.90,404.24 L490.40,403.51 L490.90,402.78 L491.40,402.06 L491.90,401.34 L492.40,400.62 L492.90,399.91 L493.40,399.19 L493.90,398.48 L494.40,397.78 L494.90,397.07 L495.40,396.37 L495.90,395.68 L496.40,394.98 L496.90,394.29 L497.40,393.60 L497.90,392.91 L498.40,392.23 L498.90,391.54 L499.40,390.87 L499.90,390.19 L500.40,389.52 L500.90,388.85 L501.40,388.18 L501.90,387.51 L502.40,386.85 L502.90,386.19 L503.40,385.53 L503.90,384.87 L504.40,384.22 L504.90,383.57 L505.40,382.92 L505.90,382.28 L506.40,381.64 L506.90,381.00 L507.40,380.36 L507.90,379.72 L508.40,379.09 L508.90,378.46 L509.40,377.83 L509.90,377.21 L510.40,376.58 L510.90,375.96 L511.40,375.34 L511.90,374.73 L512.40,374.11 L512.90,373.50 L513.40,372.89 L513.90,372.28 L514.40,371.68 L514.90,371.08 L515.40,370.48 L515.90,369.88 L516.40,369.28 L516.90,368.69 L517.40,368.10 L517.90,367.51 L518.40,366.92 L518.90,366.34 L519.40,365.75 L519.90,365.17 L520.40,364.60 L520.90,364.02 L521.40,363.44 L521.90,362.87 L522.40,362.30 L522.90,361.73 L523.40,361.17 L523.90,360.60 L524.40,360.04 L524.90,359.48 L525.40,358.92 L525.90,358.37 L526.40,357.81 L526.90,357.26 L527.40,356.71 L527.90,356.16 L528.40,355.62 L528.90,355.07 L529.40,354.53 L529.90,353.99 L530.40,353.45 L530.90,352.91 L531.40,352.38 L531.90,351.85 L532.40,351.31 L532.90,350.79 L533.40,350.26 L533.90,349.73 L534.40,349.21 L534.90,348.69 L535.40,348.16 L535.90,347.65 L536.40,347.13 L536.90,346.61 L537.40,346.10 L537.90,345.59 L538.40,345.08 L538.90,344.57 L539.40,344.06 L539.90,343.56 L540.40,343.05 L540.90,342.55 L541.40,342.05 L541.90,341.55 L542.40,341.05 L542.90,340.56 L543.40,340.06 L543.90,339.57 L544.40,339.08 L544.90,338.59 L545.40,338.10 L545.90,337.62 L546.40,337.13 L546.90,336.65 L547.40,336.17 L547.90,335.69 L548.40,335.21 L548.90,334.73 L549.40,334.25 L549.90,333.78 L550.40,333.31 L550.90,332.83 L551.40,332.36 L551.90,331.89 L552.40,331.43 L552.90,330.96 L553.40,330.50 L553.90,330.03 L554.40,329.57 L554.90,329.11 L555.40,328.65 L555.90,328.19 L556.40,327.74 L556.90,327.28 L557.40,326.83 L557.90,326.37 L558.40,325.92 L558.90,325.47 L559.40,325.02 L559.90,324.58 L560.40,324.13 L560.90,323.68 L561.40,323.24 L561.90,322.80 L562.40,322.35 L562.90,321.91 L563.40,321.47 L563.90,321.04 L564.40,320.60 L564.90,320.16 L565.40,319.73 L565.90,319.30 L566.40,318.86 L566.90,318.43 L567.40,318.00 L567.90,317.57 L568.40,317.14 L568.90,316.72 L569.40,316.29 L569.90,315.87 L570.40,315.44 L570.90,315.02 L571.40,314.60 L571.90,314.18 L572.40,313.76 L572.90,313.34 L573.40,312.92 L573.90,312.51 L574.40,312.09 L574.90,311.68 L575.40,311.26 L575.90,310.85 L576.40,310.44 L576.90,310.03 L577.40,309.62 L577.90,309.21 L578.40,308.80 L578.90,308.40 L579.40,307.99 L579.90,307.59 L580.40,307.18 L580.90,306.78 L581.40,306.38 L581.90,305.97 L582.40,305.57 L582.90,305.17 L583.40,304.78 L583.90,304.38 L584.40,303.98 L584.90,303.58 L585.40,303.19 L585.90,302.79 L586.40,302.40 L586.90,302.01 L587.40,301.61 L587.90,301.22 L588.40,300.83 L588.90,300.44 L589.40,300.05 L589.90,299.67 L590.40,299.28 L590.90,298.89 L591.40,298.51 L591.90,298.12 L592.40,297.74 L592.90,297.35 L593.40,296.97 L593.90,296.59 L594.40,296.21 L594.90,295.82 L595.40,295.44 L595.90,295.06 L596.40,294.69 L596.90,294.31 L597.40,293.93 L597.90,293.55 L598.40,293.18 L598.90,292.80 L599.40,292.43 L599.90,292.05 L600.40,291.68 L600.90,291.31 L601.40,290.93 L601.90,290.56 L602.40,290.19 L602.90,289.82 L603.40,289.45 L603.90,289.08 L604.40,288.71 L604.90,288.35 L605.40,287.98 L605.90,287.61 L606.40,287.24 L606.90,286.88 L607.40,286.51 L607.90,286.15 L608.40,285.78 L608.90,285.42 L609.40,285.06 L609.90,284.70 L610.40,284.33 L610.90,283.97 L611.40,283.61 L611.90,283.25 L612.40,282.89 L612.90,282.53 L613.40,282.17 L613.90,281.82 L614.40,281.46 L614.90,281.10 L615.40,280.74 L615.90,280.39 L616.40,280.03 L616.90,279.68 L617.40,279.32 L617.90,278.97 L618.40,278.61 L618.90,278.26 L619.40,277.91 L619.90,277.55 L620.40,277.20 L620.90,276.85 L621.40,276.50 L621.90,276.15 L622.40,275.80 L622.90,275.45 L623.40,275.10 L623.90,274.75 L624.40,274.40 L624.90,274.05 L625.40,273.71 L625.90,273.36 L626.40,273.01 L626.90,272.66 L627.40,272.32 L627.90,271.97 L628.40,271.63 L628.90,271.28 L629.40,270.94 L629.90,270.59 L630.40,270.25 L630.90,269.91 L631.40,269.56 L631.90,269.22 L632.40,268.88 L632.90,268.54 L633.40,268.19 L633.90,267.85 L634.40,267.51 L634.90,267.17 L635.40,266.83 L635.90,266.49 L636.40,266.15 L636.90,265.81 L637.40,265.47 L637.90,265.14 L638.40,264.80 L638.90,264.46 L639.40,264.12 L639.90,263.78 L640.40,263.45 L640.90,263.11 L641.40,262.77 L641.90,262.44 L642.40,262.10 L642.90,261.77 L643.40,261.43 L643.90,261.10 L644.40,260.76 L644.90,260.43 L645.40,260.10 L645.90,259.76 L646.40,259.43 L646.90,259.10 L647.40,258.76 L647.90,258.43 L648.40,258.10 L648.90,257.77 L649.40,257.44 L649.90,257.11 L650.40,256.78 L650.90,256.45 L651.40,256.12 L651.90,255.79 L652.40,255.46 L652.90,255.13 L653.40,254.80 L653.90,254.47 L654.40,254.14 L654.90,253.81 L655.40,253.48 L655.90,253.16 L656.40,252.83 L656.90,252.50 L657.40,252.18 L657.90,251.85 L658.40,251.52 L658.90,251.20 L659.40,250.87 L659.90,250.55 L660.40,250.22 L660.90,249.90 L661.40,249.57 L661.90,249.25 L662.40,248.92 L662.90,248.60 L663.40,248.28 L663.90,247.95 L664.40,247.63 L664.90,247.31 L665.40,246.98 L665.90,246.66 L666.40,246.34 L666.90,246.02 L667.40,245.70 L667.90,245.38 L668.40,245.06 L668.90,244.74 L669.40,244.42 L669.90,244.10 L670.40,243.78 L670.90,243.46 L671.40,243.14 L671.90,242.82 L672.40,242.50 L672.90,242.18 L673.40,241.86 L673.90,241.55 L674.40,241.23 L674.90,240.91 L675.40,240.59 L675.90,240.28 L676.40,239.96 L676.90,239.65 L677.40,239.33 L677.90,239.01 L678.40,238.70 L678.90,238.38 L679.40,238.07 L679.90,237.76 L680.40,237.44 L680.90,237.13 L681.40,236.81 L681.90,236.50 L682.40,236.19 L682.90,235.88 L683.40,235.56 L683.90,235.25 L684.40,234.94 L684.90,234.63 L685.40,234.32 L685.90,234.01 L686.40,233.70 L686.90,233.39 L687.40,233.08 L687.90,232.77 L688.40,232.46 L688.90,232.15 L689.40,231.84 L689.90,231.53 L690.40,231.23 L690.90,230.92 L691.40,230.61 L691.90,230.31 L692.40,230.00 L692.90,229.69 L693.40,229.39 L693.90,229.08 L694.40,228.78 L694.90,228.47 L695.40,228.17 L695.90,227.86 L696.40,227.56 L696.90,227.26 L697.40,226.95 L697.90,226.65 L698.40,226.35 L698.90,226.05 L699.40,225.75 L699.90,225.45 L700.40,225.14 L700.90,224.84 L701.40,224.54 L701.90,224.25 L702.40,223.95 L702.90,223.65 L703.40,223.35 L703.90,223.05 L704.40,222.75 L704.90,222.46 L705.40,222.16 L705.90,221.86 L706.40,221.57 L706.90,221.27 L707.40,220.98 L707.90,220.68 L708.40,220.39 L708.90,220.10 L709.40,219.80 L709.90,219.51 L710.40,219.22 L710.90,218.93 L711.40,218.63 L711.90,218.34 L712.40,218.05 L712.90,217.76 L713.40,217.47 L713.90,217.19 L714.40,216.90 L714.90,216.61 L715.40,216.32 L715.90,216.03 L716.40,215.75 L716.90,215.46 L717.40,215.18 L717.90,214.89 L718.40,214.61 L718.90,214.32 L719.40,214.04 L719.90,213.76 L720.40,213.48 L720.90,213.19 L721.40,212.91 L721.90,212.63 L722.40,212.35 L722.90,212.07 L723.40,211.79 L723.90,211.52 L724.40,211.24 L724.90,210.96 L725.40,210.68 L725.90,210.41 L726.40,210.13 L726.90,209.86 L727.40,209.58 L727.90,209.31 L728.40,209.04 L728.90,208.77 L729.40,208.49 L729.90,208.22 L730.40,207.95 L730.90,207.68 L731.40,207.41 L731.90,207.15 L732.40,206.88 L732.90,206.61 L733.40,206.34 L733.90,206.08 L734.40,205.81 L734.90,205.55 L735.40,205.29 L735.90,205.02 L736.40,204.76 L736.90,204.50 L737.40,204.24 L737.90,203.98 L738.40,203.72 L738.90,203.46 L739.40,203.20 L739.90,202.95 L740.40,202.69 L740.90,202.44 L741.40,202.18 L741.90,201.93 L742.40,201.68 L742.90,201.42 L743.40,201.17 L743.90,200.92 L744.40,200.67 L744.90,200.42 L745.40,200.18 L745.90,199.93 L746.40,199.68 L746.90,199.44 L747.40,199.19 L747.90,198.95 L748.40,198.71 L748.90,198.46 L749.40,198.22 L749.90,197.98 L750.40,197.74 L750.90,197.51 L751.40,197.27 L751.90,197.03 L752.40,196.80 L752.90,196.56 L753.40,196.33 L753.90,196.10 L754.40,195.87 L754.90,195.64 L755.40,195.41 L755.90,195.18 L756.40,194.95 L756.90,194.72 L757.40,194.50 L757.90,194.27 L758.00,194.23" fill="none" stroke="#000" stroke-width="2.5" stroke-linejoin="round" stroke-dasharray="25.93 4.72 4.13 4.72" stroke-dashoffset="14.84"/>
<path d="M438.90,443.83 L439.40,443.29 L439.90,442.76 L440.40,442.22 L440.90,441.69 L441.40,441.16 L441.90,440.62 L442.40,440.09 L442.90,439.56 L443.40,439.03 L443.90,438.50 L444.40,437.97 L444.90,437.44 L445.40,436.91 L445.90,436.39 L446.40,435.86 L446.90,435.34 L447.40,434.81 L447.90,434.29 L448.40,433.76 L448.90,433.24 L449.40,432.72 L449.90,432.20 L450.40,431.68 L450.90,431.16 L451.40,430.64 L451.90,430.12 L452.30,429.70" fill="none" stroke="#000" stroke-width="2.5" stroke-linejoin="round"/>
<path d="M455.60,426.30 L456.10,425.79 L456.60,425.28 L457.10,424.77 L457.60,424.26 L458.10,423.75 L458.60,423.24 L459.10,422.73 L459.60,422.22 L460.10,421.71 L460.60,421.21 L461.10,420.70 L461.60,420.20 L462.10,419.69 L462.60,419.19 L463.10,418.69 L463.60,418.18 L464.10,417.68 L464.60,417.18 L465.10,416.68 L465.60,416.18 L466.10,415.68 L466.60,415.19 L467.10,414.69 L467.60,414.19 L468.10,413.70 L468.60,413.20 L469.10,412.71 L469.60,412.21 L470.10,411.72 L470.60,411.23 L471.10,410.74 L471.60,410.24 L472.10,409.75 L472.60,409.26 L473.10,408.78 L473.60,408.29 L474.10,407.80 L474.60,407.31 L475.10,406.83 L475.60,406.34 L476.10,405.86 L476.60,405.37 L477.10,404.89 L477.60,404.41 L478.10,403.92 L478.60,403.44 L479.10,402.96 L479.60,402.48 L480.10,402.00 L480.60,401.52 L481.10,401.05 L481.60,400.57 L482.10,400.09 L482.60,399.62 L483.10,399.14 L483.60,398.67 L484.10,398.19 L484.60,397.72 L485.10,397.25 L485.60,396.78 L486.10,396.31 L486.60,395.83 L487.10,395.37 L487.60,394.90 L488.10,394.43 L488.60,393.96 L489.10,393.49 L489.60,393.03 L490.10,392.56 L490.60,392.10 L491.10,391.63 L491.60,391.17 L492.10,390.71 L492.60,390.24 L493.10,389.78 L493.60,389.32 L494.10,388.86 L494.60,388.40 L495.10,387.94 L495.60,387.48 L496.10,387.03 L496.60,386.57 L497.10,386.11 L497.60,385.66 L498.10,385.20 L498.60,384.75 L499.10,384.29 L499.60,383.84 L500.10,383.39 L500.60,382.94 L501.10,382.49 L501.60,382.04 L502.10,381.59 L502.60,381.14 L503.10,380.69 L503.60,380.24 L504.10,379.80 L504.60,379.35 L505.10,378.90 L505.60,378.46 L506.10,378.02 L506.60,377.57 L507.10,377.13 L507.60,376.69 L508.10,376.24 L508.60,375.80 L509.10,375.36 L509.60,374.92 L510.10,374.49 L510.60,374.05 L511.10,373.61 L511.60,373.17 L512.10,372.74 L512.60,372.30 L513.10,371.86 L513.60,371.43 L514.10,371.00 L514.60,370.56 L515.10,370.13 L515.60,369.70 L516.10,369.27 L516.60,368.84 L517.10,368.41 L517.60,367.98 L518.10,367.55 L518.60,367.12 L519.10,366.69 L519.60,366.27 L520.10,365.84 L520.60,365.42 L521.10,364.99 L521.60,364.57 L522.10,364.14 L522.60,363.72 L523.10,363.30 L523.60,362.88 L524.10,362.46 L524.60,362.04 L525.10,361.62 L525.60,361.20 L526.10,360.78 L526.60,360.36 L527.10,359.94 L527.60,359.53 L528.10,359.11 L528.60,358.70 L529.10,358.28 L529.60,357.87 L530.10,357.45 L530.60,357.04 L531.10,356.63 L531.60,356.22 L532.10,355.81 L532.60,355.40 L533.10,354.99 L533.60,354.58 L534.10,354.17 L534.60,353.76 L535.10,353.35 L535.60,352.95 L536.10,352.54 L536.60,352.14 L537.10,351.73 L537.60,351.33 L538.10,350.92 L538.60,350.52 L539.10,350.12 L539.60,349.72 L540.10,349.31 L540.60,348.91 L541.10,348.51 L541.60,348.12 L542.10,347.72 L542.60,347.32 L543.10,346.92 L543.60,346.52 L544.10,346.13 L544.60,345.73 L545.10,345.34 L545.60,344.94 L546.10,344.55 L546.60,344.16 L547.10,343.76 L547.60,343.37 L548.10,342.98 L548.60,342.59 L549.10,342.20 L549.60,341.81 L550.10,341.42 L550.60,341.03 L551.10,340.64 L551.60,340.25 L552.10,339.87 L552.60,339.48 L553.10,339.10 L553.60,338.71 L554.10,338.33 L554.60,337.94 L555.10,337.56 L555.60,337.18 L556.10,336.79 L556.60,336.41 L557.10,336.03 L557.60,335.65 L558.10,335.27 L558.60,334.89 L559.10,334.51 L559.60,334.13 L560.10,333.76 L560.60,333.38 L561.10,333.00 L561.60,332.63 L562.10,332.25 L562.60,331.88 L563.10,331.50 L563.60,331.13 L564.10,330.75 L564.60,330.38 L565.10,330.01 L565.60,329.64 L566.10,329.27 L566.60,328.90 L567.10,328.53 L567.60,328.16 L568.10,327.79 L568.60,327.42 L569.10,327.05 L569.60,326.69 L570.10,326.32 L570.60,325.95 L571.10,325.59 L571.60,325.22 L572.10,324.86 L572.60,324.49 L573.10,324.13 L573.60,323.77 L574.10,323.41 L574.60,323.04 L575.10,322.68 L575.60,322.32 L576.10,321.96 L576.60,321.60 L577.10,321.24 L577.60,320.88 L578.10,320.53 L578.60,320.17 L579.10,319.81 L579.60,319.46 L580.10,319.10 L580.60,318.74 L581.10,318.39 L581.60,318.03 L582.10,317.68 L582.60,317.33 L583.10,316.97 L583.60,316.62 L584.10,316.27 L584.60,315.92 L585.10,315.57 L585.60,315.22 L586.10,314.87 L586.60,314.52 L587.10,314.17 L587.60,313.82 L588.10,313.47 L588.60,313.13 L589.10,312.78 L589.60,312.43 L590.10,312.09 L590.60,311.74 L591.10,311.40 L591.60,311.05 L592.10,310.71 L592.60,310.36 L593.10,310.02 L593.60,309.68 L594.10,309.34 L594.60,309.00 L595.10,308.65 L595.60,308.31 L596.10,307.97 L596.60,307.63 L597.10,307.30 L597.60,306.96 L598.10,306.62 L598.60,306.28 L599.10,305.94 L599.60,305.61 L600.10,305.27 L600.60,304.93 L601.10,304.60 L601.60,304.26 L602.10,303.93 L602.60,303.60 L603.10,303.26 L603.60,302.93 L604.10,302.60 L604.60,302.26 L605.10,301.93 L605.60,301.60 L606.10,301.27 L606.60,300.94 L607.10,300.61 L607.60,300.28 L608.10,299.95 L608.60,299.62 L609.10,299.29 L609.60,298.97 L610.10,298.64 L610.60,298.31 L611.10,297.99 L611.60,297.66 L612.10,297.33 L612.60,297.01 L613.10,296.68 L613.60,296.36 L614.10,296.04 L614.60,295.71 L615.10,295.39 L615.60,295.07 L616.10,294.74 L616.60,294.42 L617.10,294.10 L617.60,293.78 L618.10,293.46 L618.60,293.14 L619.10,292.82 L619.60,292.50 L620.10,292.18 L620.60,291.86 L621.10,291.54 L621.60,291.23 L622.10,290.91 L622.60,290.59 L623.10,290.28 L623.60,289.96 L624.10,289.64 L624.60,289.33 L625.10,289.01 L625.60,288.70 L626.10,288.38 L626.60,288.07 L627.10,287.76 L627.60,287.44 L628.10,287.13 L628.60,286.82 L629.10,286.51 L629.60,286.19 L630.10,285.88 L630.60,285.57 L631.10,285.26 L631.60,284.95 L632.10,284.64 L632.60,284.33 L633.10,284.02 L633.60,283.72 L634.10,283.41 L634.60,283.10 L635.10,282.79 L635.60,282.48 L636.10,282.18 L636.60,281.87 L637.10,281.56 L637.60,281.26 L638.10,280.95 L638.60,280.65 L639.10,280.34 L639.60,280.04 L640.10,279.73 L640.60,279.43 L641.10,279.13 L641.60,278.82 L642.10,278.52 L642.60,278.22 L643.10,277.92 L643.60,277.61 L644.10,277.31 L644.60,277.01 L645.10,276.71 L645.60,276.41 L646.10,276.11 L646.60,275.81 L647.10,275.51 L647.60,275.21 L648.10,274.91 L648.60,274.61 L649.10,274.31 L649.60,274.02 L650.10,273.72 L650.60,273.42 L651.10,273.12 L651.60,272.83 L652.10,272.53 L652.60,272.23 L653.10,271.94 L653.60,271.64 L654.10,271.35 L654.60,271.05 L655.10,270.76 L655.60,270.46 L656.10,270.17 L656.60,269.87 L657.10,269.58 L657.60,269.28 L658.10,268.99 L658.60,268.70 L659.10,268.41 L659.60,268.11 L660.10,267.82 L660.60,267.53 L661.10,267.24 L661.60,266.95 L662.10,266.65 L662.60,266.36 L663.10,266.07 L663.60,265.78 L664.10,265.49 L664.60,265.20 L665.10,264.91 L665.60,264.62 L666.10,264.33 L666.60,264.04 L667.10,263.76 L667.60,263.47 L668.10,263.18 L668.60,262.89 L669.10,262.60 L669.60,262.32 L670.10,262.03 L670.60,261.74 L671.10,261.45 L671.60,261.17 L672.10,260.88 L672.60,260.59 L673.10,260.31 L673.60,260.02 L674.10,259.74 L674.60,259.45 L675.10,259.17 L675.60,258.88 L676.10,258.60 L676.60,258.31 L677.10,258.03 L677.60,257.74 L678.10,257.46 L678.60,257.17 L679.10,256.89 L679.60,256.61 L680.10,256.32 L680.60,256.04 L681.10,255.76 L681.60,255.47 L682.10,255.19 L682.60,254.91 L683.10,254.63 L683.60,254.34 L684.10,254.06 L684.60,253.78 L685.10,253.50 L685.60,253.22 L686.10,252.94 L686.60,252.65 L687.10,252.37 L687.60,252.09 L688.10,251.81 L688.60,251.53 L689.10,251.25 L689.60,250.97 L690.10,250.69 L690.60,250.41 L691.10,250.13 L691.60,249.85 L692.10,249.57 L692.60,249.29 L693.10,249.01 L693.60,248.73 L694.10,248.45 L694.60,248.17 L695.10,247.89 L695.60,247.61 L696.10,247.34 L696.60,247.06 L697.10,246.78 L697.60,246.50 L698.10,246.22 L698.60,245.94 L699.10,245.67 L699.60,245.39 L700.10,245.11 L700.60,244.83 L701.10,244.55 L701.60,244.28 L702.10,244.00 L702.60,243.72 L703.10,243.44 L703.60,243.17 L704.10,242.89 L704.60,242.61 L705.10,242.33 L705.60,242.06 L706.10,241.78 L706.60,241.50 L707.10,241.23 L707.60,240.95 L708.10,240.67 L708.60,240.40 L709.10,240.12 L709.60,239.84 L710.10,239.57 L710.60,239.29 L711.10,239.01 L711.60,238.74 L712.10,238.46 L712.60,238.18 L713.10,237.91 L713.60,237.63 L714.10,237.35 L714.60,237.08 L715.10,236.80 L715.60,236.53 L716.10,236.25 L716.60,235.97 L717.10,235.70 L717.60,235.42 L718.10,235.14 L718.60,234.87 L719.10,234.59 L719.60,234.32 L720.10,234.04 L720.60,233.76 L721.10,233.49 L721.60,233.21 L722.10,232.93 L722.60,232.66 L723.10,232.38 L723.60,232.11 L724.10,231.83 L724.60,231.55 L725.10,231.28 L725.60,231.00 L726.10,230.72 L726.60,230.45 L727.10,230.17 L727.60,229.89 L728.10,229.62 L728.60,229.34 L729.10,229.06 L729.60,228.79 L730.10,228.51 L730.60,228.23 L731.10,227.96 L731.60,227.68 L732.10,227.40 L732.60,227.13 L733.10,226.85 L733.60,226.57 L734.10,226.29 L734.60,226.02 L735.10,225.74 L735.60,225.46 L736.10,225.19 L736.60,224.91 L737.10,224.63 L737.60,224.35 L738.10,224.07 L738.60,223.80 L739.10,223.52 L739.60,223.24 L740.10,222.96 L740.60,222.68 L741.10,222.40 L741.60,222.13 L742.10,221.85 L742.60,221.57 L743.10,221.29 L743.60,221.01 L744.10,220.73 L744.60,220.45 L745.10,220.17 L745.60,219.89 L746.10,219.61 L746.60,219.33 L747.10,219.05 L747.60,218.77 L748.10,218.49 L748.60,218.21 L749.10,217.93 L749.60,217.65 L750.10,217.37 L750.60,217.09 L751.10,216.81 L751.60,216.52 L752.10,216.24 L752.60,215.96 L753.10,215.68 L753.60,215.40 L754.10,215.11 L754.60,214.83 L755.10,214.55 L755.60,214.27 L756.10,213.98 L756.60,213.70 L757.10,213.42 L757.60,213.13 L758.00,212.91" fill="none" stroke="#000" stroke-width="2.5" stroke-linejoin="round" stroke-dasharray="25.67 7.49" stroke-dashoffset="16.96"/>
<path d="M455.50,425.64 L456.00,425.14 L456.50,424.65 L457.00,424.16 L457.50,423.67 L458.00,423.19 L458.50,422.70 L459.00,422.22 L459.50,421.73 L460.00,421.25 L460.50,420.77 L461.00,420.29 L461.50,419.82 L462.00,419.34 L462.50,418.86 L463.00,418.39 L463.50,417.92 L464.00,417.45 L464.50,416.98 L465.00,416.51 L465.50,416.04 L466.00,415.58 L466.50,415.11 L467.00,414.65 L467.50,414.18 L468.00,413.72 L468.50,413.26 L469.00,412.80 L469.50,412.35 L470.00,411.89 L470.50,411.44 L471.00,410.98 L471.50,410.53 L472.00,410.08 L472.50,409.63 L473.00,409.18 L473.50,408.73 L474.00,408.28 L474.50,407.84 L475.00,407.39 L475.50,406.95 L476.00,406.51 L476.50,406.07 L477.00,405.63 L477.50,405.19 L478.00,404.75 L478.50,404.31 L479.00,403.88 L479.50,403.44 L480.00,403.01 L480.50,402.58 L481.00,402.15 L481.50,401.72 L482.00,401.29 L482.50,400.86 L483.00,400.43 L483.50,400.01 L484.00,399.58 L484.50,399.16 L485.00,398.74 L485.50,398.31 L486.00,397.89 L486.50,397.47 L487.00,397.05 L487.50,396.64 L488.00,396.22 L488.50,395.80 L489.00,395.39 L489.50,394.97 L490.00,394.56 L490.50,394.15 L491.00,393.74 L491.50,393.33 L492.00,392.92 L492.50,392.51 L493.00,392.10 L493.50,391.70 L494.00,391.29 L494.50,390.89 L495.00,390.49 L495.50,390.08 L496.00,389.68 L496.50,389.28 L497.00,388.88 L497.50,388.48 L498.00,388.08 L498.50,387.69 L499.00,387.29 L499.50,386.89 L500.00,386.50 L500.50,386.11 L501.00,385.71 L501.50,385.32 L502.00,384.93 L502.50,384.54 L503.00,384.15 L503.50,383.76 L504.00,383.37 L504.50,382.99 L505.00,382.60 L505.50,382.21 L506.00,381.83 L506.50,381.45 L507.00,381.06 L507.50,380.68 L508.00,380.30 L508.50,379.92 L509.00,379.54 L509.50,379.16 L510.00,378.78 L510.50,378.40 L511.00,378.03 L511.50,377.65 L512.00,377.27 L512.50,376.90 L513.00,376.52 L513.50,376.15 L514.00,375.78 L514.50,375.41 L515.00,375.04 L515.50,374.67 L516.00,374.30 L516.50,373.93 L517.00,373.56 L517.50,373.19 L518.00,372.82 L518.50,372.46 L519.00,372.09 L519.50,371.73 L520.00,371.36 L520.50,371.00 L521.00,370.64 L521.50,370.27 L522.00,369.91 L522.50,369.55 L523.00,369.19 L523.50,368.83 L524.00,368.47 L524.50,368.11 L525.00,367.76 L525.50,367.40 L526.00,367.04 L526.50,366.69 L527.00,366.33 L527.50,365.98 L528.00,365.62 L528.50,365.27 L529.00,364.92 L529.50,364.56 L530.00,364.21 L530.50,363.86 L531.00,363.51 L531.50,363.16 L532.00,362.81 L532.50,362.46 L533.00,362.11 L533.50,361.76 L534.00,361.42 L534.50,361.07 L535.00,360.72 L535.50,360.38 L536.00,360.03 L536.50,359.69 L537.00,359.34 L537.50,359.00 L538.00,358.66 L538.50,358.31 L539.00,357.97 L539.50,357.63 L540.00,357.29 L540.50,356.95 L541.00,356.61 L541.50,356.27 L542.00,355.93 L542.50,355.59 L543.00,355.25 L543.50,354.92 L544.00,354.58 L544.50,354.24 L545.00,353.91 L545.50,353.57 L546.00,353.23 L546.50,352.90 L547.00,352.56 L547.50,352.23 L548.00,351.90 L548.50,351.56 L549.00,351.23 L549.50,350.90 L550.00,350.57 L550.50,350.24 L551.00,349.90 L551.50,349.57 L552.00,349.24 L552.50,348.91 L553.00,348.58 L553.50,348.26 L554.00,347.93 L554.50,347.60 L555.00,347.27 L555.50,346.94 L556.00,346.62 L556.50,346.29 L557.00,345.96 L557.50,345.64 L558.00,345.31 L558.50,344.99 L559.00,344.66 L559.50,344.34 L560.00,344.01 L560.50,343.69 L561.00,343.37 L561.50,343.04 L562.00,342.72 L562.50,342.40 L563.00,342.08 L563.50,341.76 L564.00,341.44 L564.50,341.11 L565.00,340.79 L565.50,340.47 L566.00,340.15 L566.50,339.83 L567.00,339.52 L567.50,339.20 L568.00,338.88 L568.50,338.56 L569.00,338.24 L569.50,337.92 L570.00,337.61 L570.50,337.29 L571.00,336.97 L571.50,336.66 L572.00,336.34 L572.50,336.02 L573.00,335.71 L573.50,335.39 L574.00,335.08 L574.50,334.76 L575.00,334.45 L575.50,334.14 L576.00,333.82 L576.50,333.51 L577.00,333.19 L577.50,332.88 L578.00,332.57 L578.50,332.26 L579.00,331.94 L579.50,331.63 L580.00,331.32 L580.50,331.01 L581.00,330.70 L581.50,330.39 L582.00,330.08 L582.50,329.76 L583.00,329.45 L583.50,329.14 L584.00,328.83 L584.50,328.53 L585.00,328.22 L585.50,327.91 L586.00,327.60 L586.50,327.29 L587.00,326.98 L587.50,326.67 L588.00,326.36 L588.50,326.06 L589.00,325.75 L589.50,325.44 L590.00,325.13 L590.50,324.83 L591.00,324.52 L591.50,324.21 L592.00,323.91 L592.50,323.60 L593.00,323.30 L593.50,322.99 L594.00,322.68 L594.50,322.38 L595.00,322.07 L595.50,321.77 L596.00,321.46 L596.50,321.16 L597.00,320.86 L597.50,320.55 L598.00,320.25 L598.50,319.94 L599.00,319.64 L599.50,319.34 L600.00,319.03 L600.50,318.73 L601.00,318.43 L601.50,318.12 L602.00,317.82 L602.50,317.52 L603.00,317.22 L603.50,316.91 L604.00,316.61 L604.50,316.31 L605.00,316.01 L605.50,315.71 L606.00,315.41 L606.50,315.11 L607.00,314.80 L607.50,314.50 L608.00,314.20 L608.50,313.90 L609.00,313.60 L609.50,313.30 L610.00,313.00 L610.50,312.70 L611.00,312.40 L611.50,312.10 L612.00,311.80 L612.50,311.50 L613.00,311.20 L613.50,310.90 L614.00,310.61 L614.50,310.31 L615.00,310.01 L615.50,309.71 L616.00,309.41 L616.50,309.11 L617.00,308.81 L617.50,308.52 L618.00,308.22 L618.50,307.92 L619.00,307.62 L619.50,307.33 L620.00,307.03 L620.50,306.73 L621.00,306.43 L621.50,306.14 L622.00,305.84 L622.50,305.54 L623.00,305.25 L623.50,304.95 L624.00,304.65 L624.50,304.36 L625.00,304.06 L625.50,303.76 L626.00,303.47 L626.50,303.17 L627.00,302.88 L627.50,302.58 L628.00,302.29 L628.50,301.99 L629.00,301.70 L629.50,301.40 L630.00,301.11 L630.50,300.81 L631.00,300.52 L631.50,300.22 L632.00,299.93 L632.50,299.63 L633.00,299.34 L633.50,299.04 L634.00,298.75 L634.50,298.45 L635.00,298.16 L635.50,297.87 L636.00,297.57 L636.50,297.28 L637.00,296.99 L637.50,296.69 L638.00,296.40 L638.50,296.11 L639.00,295.81 L639.50,295.52 L640.00,295.23 L640.50,294.93 L641.00,294.64 L641.50,294.35 L642.00,294.05 L642.50,293.76 L643.00,293.47 L643.50,293.18 L644.00,292.89 L644.50,292.59 L645.00,292.30 L645.50,292.01 L646.00,291.72 L646.50,291.43 L647.00,291.14 L647.50,290.84 L648.00,290.55 L648.50,290.26 L649.00,289.97 L649.50,289.68 L650.00,289.39 L650.50,289.10 L651.00,288.81 L651.50,288.52 L652.00,288.23 L652.50,287.93 L653.00,287.64 L653.50,287.35 L654.00,287.06 L654.50,286.77 L655.00,286.48 L655.50,286.19 L656.00,285.91 L656.50,285.62 L657.00,285.33 L657.50,285.04 L658.00,284.75 L658.50,284.46 L659.00,284.17 L659.50,283.88 L660.00,283.59 L660.50,283.30 L661.00,283.01 L661.50,282.73 L662.00,282.44 L662.50,282.15 L663.00,281.86 L663.50,281.57 L664.00,281.29 L664.50,281.00 L665.00,280.71 L665.50,280.42 L666.00,280.14 L666.50,279.85 L667.00,279.56 L667.50,279.27 L668.00,278.99 L668.50,278.70 L669.00,278.41 L669.50,278.13 L670.00,277.84 L670.50,277.55 L671.00,277.27 L671.50,276.98 L672.00,276.70 L672.50,276.41 L673.00,276.12 L673.50,275.84 L674.00,275.55 L674.50,275.27 L675.00,274.98 L675.50,274.70 L676.00,274.41 L676.50,274.13 L677.00,273.84 L677.50,273.56 L678.00,273.27 L678.50,272.99 L679.00,272.71 L679.50,272.42 L680.00,272.14 L680.50,271.86 L681.00,271.57 L681.50,271.29 L682.00,271.01 L682.50,270.72 L683.00,270.44 L683.50,270.16 L684.00,269.87 L684.50,269.59 L685.00,269.31 L685.50,269.03 L686.00,268.75 L686.50,268.46 L687.00,268.18 L687.50,267.90 L688.00,267.62 L688.50,267.34 L689.00,267.06 L689.50,266.78 L690.00,266.50 L690.50,266.22 L691.00,265.94 L691.50,265.66 L692.00,265.38 L692.50,265.10 L693.00,264.82 L693.50,264.54 L694.00,264.26 L694.50,263.98 L695.00,263.70 L695.50,263.42 L696.00,263.15 L696.50,262.87 L697.00,262.59 L697.50,262.31 L698.00,262.03 L698.50,261.76 L699.00,261.48 L699.50,261.20 L700.00,260.93 L700.50,260.65 L701.00,260.37 L701.50,260.10 L702.00,259.82 L702.50,259.55 L703.00,259.27 L703.50,259.00 L704.00,258.72 L704.50,258.45 L705.00,258.17 L705.50,257.90 L706.00,257.62 L706.50,257.35 L707.00,257.08 L707.50,256.80 L708.00,256.53 L708.50,256.26 L709.00,255.98 L709.50,255.71 L710.00,255.44 L710.50,255.17 L711.00,254.90 L711.50,254.63 L712.00,254.36 L712.50,254.08 L713.00,253.81 L713.50,253.54 L714.00,253.27 L714.50,253.00 L715.00,252.74 L715.50,252.47 L716.00,252.20 L716.50,251.93 L717.00,251.66 L717.50,251.39 L718.00,251.13 L718.50,250.86 L719.00,250.59 L719.50,250.32 L720.00,250.06 L720.50,249.79 L721.00,249.53 L721.50,249.26 L722.00,249.00 L722.50,248.73 L723.00,248.47 L723.50,248.20 L724.00,247.94 L724.50,247.68 L725.00,247.41 L725.50,247.15 L726.00,246.89 L726.50,246.62 L727.00,246.36 L727.50,246.10 L728.00,245.84 L728.50,245.58 L729.00,245.32 L729.50,245.06 L730.00,244.80 L730.50,244.54 L731.00,244.28 L731.50,244.02 L732.00,243.76 L732.50,243.51 L733.00,243.25 L733.50,242.99 L734.00,242.74 L734.50,242.48 L735.00,242.22 L735.50,241.97 L736.00,241.71 L736.50,241.46 L737.00,241.20 L737.50,240.95 L738.00,240.70 L738.50,240.44 L739.00,240.19 L739.50,239.94 L740.00,239.69 L740.50,239.44 L741.00,239.18 L741.50,238.93 L742.00,238.68 L742.50,238.43 L743.00,238.19 L743.50,237.94 L744.00,237.69 L744.50,237.44 L745.00,237.19 L745.50,236.95 L746.00,236.70 L746.50,236.46 L747.00,236.21 L747.50,235.96 L748.00,235.72 L748.50,235.48 L749.00,235.23 L749.50,234.99 L750.00,234.75 L750.50,234.51 L751.00,234.26 L751.50,234.02 L752.00,233.78 L752.50,233.54 L753.00,233.30 L753.50,233.06 L754.00,232.83 L754.50,232.59 L755.00,232.35 L755.50,232.11 L756.00,231.88 L756.50,231.64 L757.00,231.41 L757.50,231.17 L758.00,230.94" fill="none" stroke="#000" stroke-width="2.5" stroke-linejoin="round" stroke-dasharray="25.29 3.45 4.60 12.64" stroke-dashoffset="32.05"/>
<path d="M455.50,425.44 L456.00,425.02 L456.50,424.60 L457.00,424.18 L457.50,423.76 L458.00,423.35 L458.50,422.93 L459.00,422.51 L459.50,422.10 L460.00,421.68 L460.50,421.27 L461.00,420.86 L461.50,420.45 L462.00,420.03 L462.50,419.62 L463.00,419.21 L463.50,418.80 L464.00,418.39 L464.50,417.99 L465.00,417.58 L465.50,417.17 L466.00,416.76 L466.50,416.36 L467.00,415.95 L467.50,415.55 L468.00,415.15 L468.50,414.74 L469.00,414.34 L469.50,413.94 L470.00,413.54 L470.50,413.14 L471.00,412.74 L471.50,412.34 L472.00,411.94 L472.50,411.54 L473.00,411.14 L473.50,410.75 L474.00,410.35 L474.50,409.95 L475.00,409.56 L475.50,409.16 L476.00,408.77 L476.50,408.38 L477.00,407.99 L477.50,407.59 L478.00,407.20 L478.50,406.81 L479.00,406.42 L479.50,406.03 L480.00,405.64 L480.50,405.25 L481.00,404.87 L481.50,404.48 L482.00,404.09 L482.50,403.71 L483.00,403.32 L483.50,402.94 L484.00,402.55 L484.50,402.17 L485.00,401.78 L485.50,401.40 L486.00,401.02 L486.50,400.64 L487.00,400.26 L487.50,399.88 L488.00,399.50 L488.50,399.12 L489.00,398.74 L489.50,398.36 L490.00,397.98 L490.50,397.60 L491.00,397.23 L491.50,396.85 L492.00,396.48 L492.50,396.10 L493.00,395.73 L493.50,395.35 L494.00,394.98 L494.50,394.61 L495.00,394.23 L495.50,393.86 L496.00,393.49 L496.50,393.12 L497.00,392.75 L497.50,392.38 L498.00,392.01 L498.50,391.64 L499.00,391.27 L499.50,390.91 L500.00,390.54 L500.50,390.17 L501.00,389.80 L501.50,389.44 L502.00,389.07 L502.50,388.71 L503.00,388.34 L503.50,387.98 L504.00,387.62 L504.50,387.25 L505.00,386.89 L505.50,386.53 L506.00,386.17 L506.50,385.81 L507.00,385.45 L507.50,385.09 L508.00,384.73 L508.50,384.37 L509.00,384.01 L509.50,383.65 L510.00,383.29 L510.50,382.94 L511.00,382.58 L511.50,382.22 L512.00,381.87 L512.50,381.51 L513.00,381.16 L513.50,380.80 L514.00,380.45 L514.50,380.10 L515.00,379.74 L515.50,379.39 L516.00,379.04 L516.50,378.69 L517.00,378.34 L517.50,377.98 L518.00,377.63 L518.50,377.28 L519.00,376.93 L519.50,376.59 L520.00,376.24 L520.50,375.89 L521.00,375.54 L521.50,375.19 L522.00,374.85 L522.50,374.50 L523.00,374.15 L523.50,373.81 L524.00,373.46 L524.50,373.12 L525.00,372.77 L525.50,372.43 L526.00,372.08 L526.50,371.74 L527.00,371.40 L527.50,371.06 L528.00,370.71 L528.50,370.37 L529.00,370.03 L529.50,369.69 L530.00,369.35 L530.50,369.01 L531.00,368.67 L531.50,368.33 L532.00,367.99 L532.50,367.65 L533.00,367.31 L533.50,366.98 L534.00,366.64 L534.50,366.30 L535.00,365.97 L535.50,365.63 L536.00,365.29 L536.50,364.96 L537.00,364.62 L537.50,364.29 L538.00,363.95 L538.50,363.62 L539.00,363.29 L539.50,362.95 L540.00,362.62 L540.50,362.29 L541.00,361.95 L541.50,361.62 L542.00,361.29 L542.50,360.96 L543.00,360.63 L543.50,360.30 L544.00,359.97 L544.50,359.64 L545.00,359.31 L545.50,358.98 L546.00,358.65 L546.50,358.32 L547.00,357.99 L547.50,357.67 L548.00,357.34 L548.50,357.01 L549.00,356.69 L549.50,356.36 L550.00,356.03 L550.50,355.71 L551.00,355.38 L551.50,355.06 L552.00,354.73 L552.50,354.41 L553.00,354.08 L553.50,353.76 L554.00,353.44 L554.50,353.11 L555.00,352.79 L555.50,352.47 L556.00,352.15 L556.50,351.83 L557.00,351.50 L557.50,351.18 L558.00,350.86 L558.50,350.54 L559.00,350.22 L559.50,349.90 L560.00,349.58 L560.50,349.26 L561.00,348.94 L561.50,348.63 L562.00,348.31 L562.50,347.99 L563.00,347.67 L563.50,347.35 L564.00,347.04 L564.50,346.72 L565.00,346.40 L565.50,346.09 L566.00,345.77 L566.50,345.46 L567.00,345.14 L567.50,344.83 L568.00,344.51 L568.50,344.20 L569.00,343.88 L569.50,343.57 L570.00,343.25 L570.50,342.94 L571.00,342.63 L571.50,342.32 L572.00,342.00 L572.50,341.69 L573.00,341.38 L573.50,341.07 L574.00,340.76 L574.50,340.44 L575.00,340.13 L575.50,339.82 L576.00,339.51 L576.50,339.20 L577.00,338.89 L577.50,338.58 L578.00,338.27 L578.50,337.97 L579.00,337.66 L579.50,337.35 L580.00,337.04 L580.50,336.73 L581.00,336.42 L581.50,336.12 L582.00,335.81 L582.50,335.50 L583.00,335.20 L583.50,334.89 L584.00,334.58 L584.50,334.28 L585.00,333.97 L585.50,333.67 L586.00,333.36 L586.50,333.06 L587.00,332.75 L587.50,332.45 L588.00,332.14 L588.50,331.84 L589.00,331.54 L589.50,331.23 L590.00,330.93 L590.50,330.63 L591.00,330.33 L591.50,330.02 L592.00,329.72 L592.50,329.42 L593.00,329.12 L593.50,328.82 L594.00,328.52 L594.50,328.21 L595.00,327.91 L595.50,327.61 L596.00,327.31 L596.50,327.01 L597.00,326.71 L597.50,326.41 L598.00,326.11 L598.50,325.82 L599.00,325.52 L599.50,325.22 L600.00,324.92 L600.50,324.62 L601.00,324.32 L601.50,324.03 L602.00,323.73 L602.50,323.43 L603.00,323.14 L603.50,322.84 L604.00,322.54 L604.50,322.25 L605.00,321.95 L605.50,321.65 L606.00,321.36 L606.50,321.06 L607.00,320.77 L607.50,320.47 L608.00,320.18 L608.50,319.88 L609.00,319.59 L609.50,319.29 L610.00,319.00 L610.50,318.71 L611.00,318.41 L611.50,318.12 L612.00,317.83 L612.50,317.53 L613.00,317.24 L613.50,316.95 L614.00,316.66 L614.50,316.37 L615.00,316.07 L615.50,315.78 L616.00,315.49 L616.50,315.20 L617.00,314.91 L617.50,314.62 L618.00,314.33 L618.50,314.04 L619.00,313.75 L619.50,313.46 L620.00,313.17 L620.50,312.88 L621.00,312.59 L621.50,312.30 L622.00,312.01 L622.50,311.72 L623.00,311.43 L623.50,311.15 L624.00,310.86 L624.50,310.57 L625.00,310.28 L625.50,310.00 L626.00,309.71 L626.50,309.42 L627.00,309.13 L627.50,308.85 L628.00,308.56 L628.50,308.27 L629.00,307.99 L629.50,307.70 L630.00,307.42 L630.50,307.13 L631.00,306.85 L631.50,306.56 L632.00,306.28 L632.50,305.99 L633.00,305.71 L633.50,305.42 L634.00,305.14 L634.50,304.86 L635.00,304.57 L635.50,304.29 L636.00,304.00 L636.50,303.72 L637.00,303.44 L637.50,303.16 L638.00,302.87 L638.50,302.59 L639.00,302.31 L639.50,302.03 L640.00,301.74 L640.50,301.46 L641.00,301.18 L641.50,300.90 L642.00,300.62 L642.50,300.34 L643.00,300.06 L643.50,299.78 L644.00,299.50 L644.50,299.22 L645.00,298.94 L645.50,298.66 L646.00,298.38 L646.50,298.10 L647.00,297.82 L647.50,297.54 L648.00,297.26 L648.50,296.98 L649.00,296.70 L649.50,296.43 L650.00,296.15 L650.50,295.87 L651.00,295.59 L651.50,295.32 L652.00,295.04 L652.50,294.76 L653.00,294.48 L653.50,294.21 L654.00,293.93 L654.50,293.65 L655.00,293.38 L655.50,293.10 L656.00,292.83 L656.50,292.55 L657.00,292.28 L657.50,292.00 L658.00,291.72 L658.50,291.45 L659.00,291.18 L659.50,290.90 L660.00,290.63 L660.50,290.35 L661.00,290.08 L661.50,289.80 L662.00,289.53 L662.50,289.26 L663.00,288.98 L663.50,288.71 L664.00,288.44 L664.50,288.17 L665.00,287.89 L665.50,287.62 L666.00,287.35 L666.50,287.08 L667.00,286.81 L667.50,286.53 L668.00,286.26 L668.50,285.99 L669.00,285.72 L669.50,285.45 L670.00,285.18 L670.50,284.91 L671.00,284.64 L671.50,284.37 L672.00,284.10 L672.50,283.83 L673.00,283.56 L673.50,283.29 L674.00,283.02 L674.50,282.75 L675.00,282.48 L675.50,282.21 L676.00,281.95 L676.50,281.68 L677.00,281.41 L677.50,281.14 L678.00,280.87 L678.50,280.61 L679.00,280.34 L679.50,280.07 L680.00,279.81 L680.50,279.54 L681.00,279.27 L681.50,279.01 L682.00,278.74 L682.50,278.48 L683.00,278.21 L683.50,277.94 L684.00,277.68 L684.50,277.41 L685.00,277.15 L685.50,276.88 L686.00,276.62 L686.50,276.36 L687.00,276.09 L687.50,275.83 L688.00,275.56 L688.50,275.30 L689.00,275.04 L689.50,274.77 L690.00,274.51 L690.50,274.25 L691.00,273.99 L691.50,273.72 L692.00,273.46 L692.50,273.20 L693.00,272.94 L693.50,272.68 L694.00,272.41 L694.50,272.15 L695.00,271.89 L695.50,271.63 L696.00,271.37 L696.50,271.11 L697.00,270.85 L697.50,270.59 L698.00,270.33 L698.50,270.07 L699.00,269.81 L699.50,269.55 L700.00,269.29 L700.50,269.03 L701.00,268.78 L701.50,268.52 L702.00,268.26 L702.50,268.00 L703.00,267.74 L703.50,267.49 L704.00,267.23 L704.50,266.97 L705.00,266.72 L705.50,266.46 L706.00,266.20 L706.50,265.95 L707.00,265.69 L707.50,265.43 L708.00,265.18 L708.50,264.92 L709.00,264.67 L709.50,264.41 L710.00,264.16 L710.50,263.90 L711.00,263.65 L711.50,263.40 L712.00,263.14 L712.50,262.89 L713.00,262.64 L713.50,262.38 L714.00,262.13 L714.50,261.88 L715.00,261.62 L715.50,261.37 L716.00,261.12 L716.50,260.87 L717.00,260.62 L717.50,260.36 L718.00,260.11 L718.50,259.86 L719.00,259.61 L719.50,259.36 L720.00,259.11 L720.50,258.86 L721.00,258.61 L721.50,258.36 L722.00,258.11 L722.50,257.86 L723.00,257.61 L723.50,257.37 L724.00,257.12 L724.50,256.87 L725.00,256.62 L725.50,256.37 L726.00,256.13 L726.50,255.88 L727.00,255.63 L727.50,255.39 L728.00,255.14 L728.50,254.89 L729.00,254.65 L729.50,254.40 L730.00,254.16 L730.50,253.91 L731.00,253.67 L731.50,253.42 L732.00,253.18 L732.50,252.93 L733.00,252.69 L733.50,252.45 L734.00,252.20 L734.50,251.96 L735.00,251.72 L735.50,251.47 L736.00,251.23 L736.50,250.99 L737.00,250.75 L737.50,250.51 L738.00,250.26 L738.50,250.02 L739.00,249.78 L739.50,249.54 L740.00,249.30 L740.50,249.06 L741.00,248.82 L741.50,248.58 L742.00,248.34 L742.50,248.10 L743.00,247.87 L743.50,247.63 L744.00,247.39 L744.50,247.15 L745.00,246.91 L745.50,246.68 L746.00,246.44 L746.50,246.20 L747.00,245.97 L747.50,245.73 L748.00,245.49 L748.50,245.26 L749.00,245.02 L749.50,244.79 L750.00,244.55 L750.50,244.32 L751.00,244.08 L751.50,243.85 L752.00,243.62 L752.50,243.38 L753.00,243.15 L753.50,242.92 L754.00,242.69 L754.50,242.45 L755.00,242.22 L755.50,241.99 L756.00,241.76 L756.50,241.53 L757.00,241.30 L757.50,241.07 L758.00,240.84" fill="none" stroke="#000" stroke-width="2.5" stroke-linejoin="round" stroke-dasharray="5.30 3.70" stroke-dashoffset="0.00"/>
</svg>
<div class="cap" style="top:797.6px;font-size:13.1px;line-height:15px;">FIG. 1 Bored Forgings</div>
<div class="ln" id="L0" style="left:51.2px;top:870.18px;font-size:16.35px;line-height:18.8px;"><b>2.&nbsp; Referenced Documents</b></div>
<div class="ln" id="L1" style="left:66.2px;top:895.18px;font-size:16.35px;line-height:18.8px;word-spacing:0.260px;">2.1&nbsp; The reference is to the latest issue of these designations</div>
<div class="ln" id="L2" style="left:51.2px;top:913.88px;font-size:16.35px;line-height:18.8px;word-spacing:3.385px;">that appear in the <i>Annual Book of ASTM Standards</i> or are</div>
<div class="ln" id="L3" style="left:51.2px;top:932.58px;font-size:16.35px;line-height:18.8px;word-spacing:2.861px;">available as separate reprints. It shall also apply to product</div>
<div class="ln" id="L4" style="left:51.2px;top:951.28px;font-size:16.35px;line-height:18.8px;word-spacing:2.172px;">specifications, which may be issued when specifically refer-</div>
<div class="ln" id="L5" style="left:51.2px;top:969.98px;font-size:16.35px;line-height:18.8px;word-spacing:-0.056px;">enced therein.</div>
<div class="ln" id="L6" style="left:66.2px;top:995.18px;font-size:16.35px;line-height:18.8px;">2.2&nbsp; <i>ASTM Standards:</i><sup>2</sup></div>
<div class="ln" id="L7" style="left:66.2px;top:1013.88px;font-size:16.35px;line-height:18.8px;word-spacing:-0.097px;"><span class="r">A469/A469M</span><span class="ns"> </span><span class="b">Specification for Vacuum-Treated Steel Forg-</span></div>
<div class="ln" id="L8" style="left:81.8px;top:1032.58px;font-size:16.35px;line-height:18.8px;word-spacing:1.072px;"><span class="b">ings for Generator Rotors</span></div>
<div class="ln" id="L9" style="left:66.2px;top:1051.28px;font-size:16.35px;line-height:18.8px;word-spacing:-0.847px;"><span class="r">A470/A470M</span><span class="ns"> </span><span class="b">Specification for Vacuum-Treated Carbon and</span></div>
<div class="ln" id="L10" style="left:81.8px;top:1069.98px;font-size:16.35px;line-height:18.8px;word-spacing:1.127px;"><span class="b">Alloy Steel Forgings for Turbine Rotors and Shafts</span></div>
<div class="ln" id="L11" style="left:504.6px;top:869.98px;font-size:16.35px;line-height:18.8px;word-spacing:-0.731px;"><span class="r">A768/A768M</span><span class="ns"> </span><span class="b">Specification for Vacuum-Treated 12 % Chro-</span></div>
<div class="ln" id="L12" style="left:519.8px;top:888.68px;font-size:16.35px;line-height:18.8px;word-spacing:5.704px;"><span class="b">mium Alloy Forgings for Turbine Rotors and Shafts</span></div>
<div class="ln" id="L13" style="left:519.8px;top:907.38px;font-size:16.35px;line-height:18.8px;word-spacing:1.450px;">(Withdrawn 2018)<sup>3</sup></div>
<div class="ln" id="L14" style="left:504.6px;top:926.08px;font-size:16.35px;line-height:18.8px;word-spacing:0.512px;"><span class="r">A788/A788M</span><span class="ns"> </span><span class="b">Specification for Steel Forgings, General Re-</span></div>
<div class="ln" id="L15" style="left:519.8px;top:944.78px;font-size:16.35px;line-height:18.8px;word-spacing:0.000px;"><span class="b">quirements</span></div>
<div class="ln" id="L16" style="left:504.6px;top:963.48px;font-size:16.35px;line-height:18.8px;word-spacing:10.395px;"><span class="r">A940/A940M</span><span class="ns"> </span><span class="b">Specification for Vacuum Treated Steel</span></div>
<div class="ln" id="L17" style="left:519.8px;top:982.18px;font-size:16.35px;line-height:18.8px;word-spacing:1.745px;"><span class="b">Forgings, Alloy, Differentially Heat Treated, for Turbine</span></div>
<div class="ln" id="L18" style="left:519.8px;top:1000.88px;font-size:16.35px;line-height:18.8px;word-spacing:0.981px;"><span class="b">Rotors</span> (Withdrawn 2017)<sup>3</sup></div>
<div class="ln" id="L19" style="left:504.6px;top:1019.58px;font-size:16.35px;line-height:18.8px;word-spacing:-0.347px;"><span class="r">E317</span><span class="ns"> </span><span class="b">Practice for Evaluating Performance Characteristics of</span></div>
<div class="ln" id="L20" style="left:519.8px;top:1038.28px;font-size:16.35px;line-height:18.8px;word-spacing:2.601px;"><span class="b">Ultrasonic Pulse-Echo Testing Instruments and Systems</span></div>
<div class="ln" id="L21" style="left:519.8px;top:1056.98px;font-size:16.35px;line-height:18.8px;word-spacing:1.178px;"><span class="b">without the Use of Electronic Measurement Instruments</span></div>
<div class="ln" id="L22" style="left:504.6px;top:1075.68px;font-size:16.35px;line-height:18.8px;word-spacing:3.980px;"><span class="r">E1065/E1065M</span><span class="ns"> </span><span class="b">Practice for Evaluating Characteristics of</span></div>
<div class="ln" id="L23" style="left:519.8px;top:1094.38px;font-size:16.35px;line-height:18.8px;word-spacing:1.180px;"><span class="b">Ultrasonic Search Units</span></div>
<div class="ln" id="L24" style="left:504.6px;top:1113.08px;font-size:16.35px;line-height:18.8px;word-spacing:0.766px;"><span class="r">E1316</span><span class="ns"> </span><span class="b">Terminology for Nondestructive Examinations</span></div>
<div class="ln" id="L25" style="left:66.6px;top:764.94px;font-size:14.2px;line-height:16.33px;word-spacing:0.109px;"><span class="sc">N<small>OTE</small></span> 1—Sensitivity multiplication factor such that a 10 % indication at the forging bore surface will be equivalent to a ⅛ in. [3 mm] diameter flat</div>
<div class="ln" id="L26" style="left:51.2px;top:779.74px;font-size:14.2px;line-height:16.33px;word-spacing:0.266px;">bottom hole. Inspection frequency: 2.0 MHz or 2.25 MHz. Material velocity: 2.30 in./s × 10<sup>5</sup> in./s [5.85 cm/s × 10<sup>5</sup> cm/s].</div>
<div class="ln" id="L27" style="left:67.4px;top:1135.08px;font-size:12.3px;line-height:14.14px;word-spacing:1.339px;"><sup class="fn">2</sup>For referenced ASTM standards, visit the ASTM website, www.astm.org, or</div>
<div class="ln" id="L28" style="left:50.9px;top:1149.48px;font-size:12.3px;line-height:14.14px;word-spacing:0.615px;">contact ASTM Customer Service at service@astm.org. For <i>Annual Book of ASTM</i></div>
<div class="ln" id="L29" style="left:50.9px;top:1163.88px;font-size:12.3px;line-height:14.14px;word-spacing:-0.129px;"><i>Standards</i> volume information, refer to the standard’s Document Summary page on</div>
<div class="ln" id="L30" style="left:50.9px;top:1178.28px;font-size:12.3px;line-height:14.14px;word-spacing:0.602px;">the ASTM website.</div>
<div class="ln" id="L31" style="left:505.0px;top:1163.48px;font-size:12.3px;line-height:14.14px;word-spacing:5.104px;"><sup class="fn">3</sup>The last approved version of this historical standard is referenced on</div>
<div class="ln" id="L32" style="left:489.6px;top:1178.48px;font-size:12.3px;line-height:14.14px;word-spacing:0.000px;">www.astm.org.</div>
<div class="rule" style="left:51px;top:1123.6px;width:97.6px;"></div>
<div class="rule" style="left:490px;top:1153px;width:97.6px;"></div>
<div class="ln" style="left:0;width:950px;text-align:center;top:1220px;font-size:14.3px;line-height:16px;">2</div>
</body></html>
